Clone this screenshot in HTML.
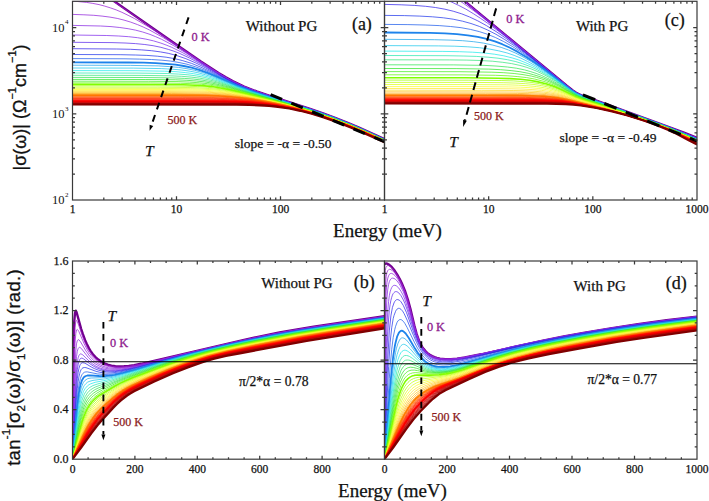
<!DOCTYPE html>
<html><head><meta charset="utf-8"><style>html,body{margin:0;padding:0;background:#fff;width:709px;height:501px;overflow:hidden}svg{display:block}</style></head>
<body><svg fill="#111" width="709" height="501" viewBox="0 0 709 501">
<defs><clipPath id="cpA"><rect x="72.5" y="1.3" width="312.0" height="198.7"/></clipPath><clipPath id="cpB"><rect x="72.5" y="261.0" width="312.0" height="198.2"/></clipPath><clipPath id="cpC"><rect x="384.5" y="1.3" width="312.5" height="198.7"/></clipPath><clipPath id="cpD"><rect x="384.5" y="261.0" width="312.5" height="198.2"/></clipPath></defs>
<rect width="709" height="501" fill="#fff"/>
<g clip-path="url(#cpA)" fill="none" stroke-linejoin="round">
<path d="M100.6 -8.2 175.5 44.0 200.9 61.5 218.6 73.1 225.9 77.4 232.7 81.1 244.1 86.5 256.6 91.4 269.1 95.6 310.1 108.9 323.1 113.4 335.1 117.8 346.5 122.3 358.5 127.4 384.5 139.2" stroke="#70008c" stroke-width="2.4"/>
<path d="M99.0 -8.3 125.5 9.5 186.9 52.0 204.6 64.0 220.2 74.1 226.4 77.8 232.7 81.2 244.1 86.6 256.6 91.4 269.1 95.7 310.1 108.9 323.1 113.4 335.1 117.8 346.5 122.4 358.5 127.4 384.5 139.3" stroke="#9f1fcc" stroke-width="0.75"/>
<path d="M72.5 1.0 86.5 2.4 92.8 3.4 99.0 4.6 104.7 6.1 110.5 7.9 116.2 9.9 121.9 12.3 128.1 15.3 134.4 18.5 148.4 26.8 165.6 37.8 200.9 61.7 213.4 70.0 225.9 77.5 236.8 83.3 246.7 87.7 258.7 92.2 309.1 108.6 322.1 113.1 333.5 117.3 345.5 122.0 357.5 127.0 369.9 132.6 384.5 139.3" stroke="#9822d4" stroke-width="0.75"/>
<path d="M72.5 14.4 83.9 14.8 93.8 15.3 102.1 16.1 109.9 17.1 117.2 18.4 124.0 20.1 130.7 22.1 137.5 24.6 143.2 27.0 149.5 30.0 162.5 37.2 177.5 46.5 206.7 65.7 217.6 72.7 228.5 79.1 238.9 84.4 248.3 88.4 259.2 92.5 308.6 108.5 321.6 113.0 333.0 117.2 345.0 121.9 356.9 126.9 369.9 132.6 384.5 139.4" stroke="#9126db" stroke-width="0.75"/>
<path d="M72.5 25.4 100.6 26.0 111.0 26.6 119.8 27.5 128.1 28.7 135.4 30.1 142.7 32.0 150.0 34.4 155.7 36.7 161.4 39.2 173.4 45.5 186.4 53.2 211.9 69.4 221.2 75.1 231.1 80.6 241.0 85.4 249.8 89.1 260.2 92.9 308.1 108.4 321.1 112.9 332.5 117.1 344.5 121.7 356.9 126.9 369.9 132.7 384.5 139.5" stroke="#8a2be3" stroke-width="0.75"/>
<path d="M72.5 35.0 106.8 35.5 118.8 36.0 128.7 36.7 137.5 37.7 145.8 39.1 153.6 40.9 160.9 43.1 166.1 45.0 171.3 47.1 182.7 52.7 194.2 59.1 224.3 77.2 233.7 82.2 242.5 86.3 250.9 89.7 260.7 93.2 308.1 108.5 332.0 116.9 343.9 121.6 356.4 126.8 369.4 132.5 384.5 139.5" stroke="#812feb" stroke-width="0.75"/>
<path d="M72.5 42.3 112.0 42.6 125.0 43.0 135.4 43.6 144.8 44.5 153.1 45.7 160.9 47.3 168.7 49.5 173.9 51.2 179.1 53.2 189.5 58.0 199.9 63.5 227.5 79.2 235.8 83.4 244.1 87.1 251.9 90.2 260.7 93.4 307.5 108.4 331.5 116.8 343.9 121.6 356.4 126.8 369.4 132.6 384.5 139.6" stroke="#5c2ceb" stroke-width="0.75"/>
<path d="M72.5 48.7 116.7 49.0 130.7 49.3 141.7 49.9 151.5 50.7 160.4 51.9 168.2 53.3 176.0 55.3 185.9 58.7 195.7 62.9 205.1 67.6 229.5 80.7 237.3 84.5 245.1 87.8 252.4 90.6 260.7 93.5 306.5 108.2 319.5 112.6 330.9 116.7 343.4 121.5 355.9 126.7 369.4 132.6 384.5 139.6" stroke="#3628eb" stroke-width="0.75"/>
<path d="M72.5 54.5 120.9 54.7 135.4 55.0 146.9 55.4 157.3 56.2 166.1 57.2 174.4 58.6 182.2 60.5 191.6 63.4 200.9 67.2 209.8 71.3 231.6 82.3 238.9 85.6 245.7 88.3 260.2 93.6 306.0 108.1 319.0 112.5 330.4 116.6 342.9 121.4 355.9 126.8 369.4 132.7 384.5 139.7" stroke="#253ceb" stroke-width="0.75"/>
<path d="M72.5 58.6 125.0 58.8 139.6 59.1 151.5 59.5 161.9 60.2 170.8 61.1 179.1 62.5 186.9 64.2 195.7 66.9 204.6 70.2 212.4 73.6 234.7 84.1 242.0 87.2 249.3 90.0 263.9 95.0 309.6 109.4 323.1 114.0 336.1 118.8 347.1 123.1 358.5 127.9 384.5 139.8" stroke="#225feb" stroke-width="0.75"/>
<path d="M72.5 62.3 128.1 62.5 143.7 62.7 155.7 63.1 166.1 63.8 175.5 64.7 183.8 66.0 191.6 67.7 199.9 70.1 208.2 73.1 215.5 76.1 236.3 85.3 250.3 90.7 263.9 95.2 307.5 108.8 320.5 113.2 333.0 117.7 345.0 122.4 356.9 127.3 369.9 133.1 384.5 139.8" stroke="#1e83eb" stroke-width="1.8"/>
<path d="M72.5 65.2 130.7 65.4 158.3 65.9 169.2 66.6 178.6 67.4 186.9 68.7 194.7 70.3 202.5 72.4 210.8 75.2 237.9 86.4 251.4 91.4 263.9 95.4 304.9 108.1 317.9 112.4 329.9 116.7 342.4 121.4 355.4 126.7 368.9 132.7 384.5 139.9" stroke="#20a6eb" stroke-width="0.75"/>
<path d="M72.5 68.0 133.3 68.1 161.4 68.6 172.3 69.2 181.7 70.0 190.0 71.2 197.8 72.7 205.6 74.8 213.4 77.3 239.4 87.4 252.4 92.0 302.3 107.4 315.3 111.6 327.3 115.8 340.8 120.9 354.3 126.4 368.4 132.5 384.5 139.9" stroke="#22c8eb" stroke-width="0.75"/>
<path d="M72.5 70.6 135.9 70.7 164.5 71.2 176.0 71.7 185.3 72.6 193.7 73.7 201.5 75.2 208.7 77.1 216.0 79.3 241.0 88.5 252.9 92.5 300.3 106.9 324.7 115.0 338.7 120.2 352.8 125.8 367.3 132.1 384.5 140.0" stroke="#23ebeb" stroke-width="0.75"/>
<path d="M72.5 73.0 138.0 73.1 167.1 73.5 178.6 74.1 187.9 74.8 196.3 75.9 204.1 77.3 210.8 79.0 217.6 80.9 250.9 92.3 298.2 106.4 322.6 114.4 337.2 119.7 351.7 125.4 366.8 132.0 384.5 140.1" stroke="#2ee8b0" stroke-width="0.75"/>
<path d="M72.5 75.3 141.1 75.4 170.3 75.8 181.7 76.3 191.1 77.1 199.4 78.1 207.2 79.5 213.9 81.0 221.2 83.1 250.3 92.5 296.1 105.9 320.5 113.7 335.6 119.2 350.7 125.1 366.3 131.8 384.5 140.1" stroke="#39e67e" stroke-width="0.75"/>
<path d="M72.5 77.4 143.2 77.5 172.9 77.9 184.3 78.4 193.7 79.1 202.0 80.1 210.3 81.5 217.6 83.1 225.4 85.3 252.9 93.7 296.1 106.1 318.5 113.1 334.1 118.7 349.7 124.8 365.8 131.6 384.5 140.2" stroke="#34e655" stroke-width="0.75"/>
<path d="M72.5 79.4 145.8 79.5 175.5 79.8 186.9 80.3 196.3 81.0 204.6 81.9 212.9 83.3 219.7 84.8 226.9 86.6 253.5 94.3 284.7 102.9 301.8 108.0 316.9 112.7 333.0 118.4 349.1 124.6 365.3 131.5 384.5 140.2" stroke="#32e62e" stroke-width="0.75"/>
<path d="M72.5 81.2 148.4 81.3 178.1 81.6 189.5 82.1 199.4 82.8 207.7 83.7 216.0 85.1 222.8 86.5 230.6 88.4 280.5 102.0 299.2 107.3 315.9 112.5 332.5 118.3 348.6 124.5 365.3 131.5 384.5 140.3" stroke="#45ee20" stroke-width="0.75"/>
<path d="M72.5 82.9 150.5 82.9 180.7 83.3 192.1 83.7 201.5 84.3 210.3 85.3 218.6 86.6 225.9 88.1 233.7 90.0 277.4 101.4 297.1 106.9 314.8 112.3 331.5 118.0 348.1 124.4 364.7 131.4 384.5 140.4" stroke="#5ff710" stroke-width="0.75"/>
<path d="M72.5 84.4 153.1 84.5 183.3 84.8 194.7 85.2 204.6 85.9 213.4 86.8 221.7 88.2 229.0 89.6 237.9 91.6 275.8 101.2 296.1 106.7 314.3 112.2 330.9 117.9 347.6 124.2 364.7 131.5 384.5 140.4" stroke="#80ff00" stroke-width="1.6"/>
<path d="M72.5 85.8 155.7 85.8 185.9 86.2 197.3 86.6 207.2 87.2 216.0 88.2 224.3 89.5 241.0 93.0 274.8 101.2 295.1 106.6 313.8 112.2 330.4 117.8 347.1 124.1 364.2 131.3 384.5 140.5" stroke="#a2ff0a" stroke-width="0.75"/>
<path d="M72.5 87.1 157.8 87.2 187.9 87.5 199.4 87.9 209.3 88.5 218.1 89.4 226.9 90.7 244.6 94.3 274.8 101.4 295.1 106.7 313.8 112.3 330.4 117.9 347.1 124.2 364.2 131.4 384.5 140.5" stroke="#c2ff14" stroke-width="0.75"/>
<path d="M72.5 88.3 160.4 88.4 190.5 88.7 202.0 89.1 211.9 89.7 220.7 90.6 230.1 92.0 248.8 95.7 275.3 101.8 295.1 106.9 313.8 112.4 330.4 118.0 347.1 124.3 364.2 131.4 384.5 140.6" stroke="#e0ff1f" stroke-width="0.75"/>
<path d="M72.5 89.5 162.5 89.5 192.6 89.8 204.1 90.2 213.9 90.8 223.3 91.8 232.7 93.1 251.4 96.7 275.8 102.1 295.6 107.2 313.8 112.5 330.4 118.1 347.1 124.3 364.2 131.5 384.5 140.7" stroke="#fbff29" stroke-width="0.75"/>
<path d="M72.5 90.6 165.1 90.6 195.2 90.9 207.2 91.3 217.1 92.0 226.4 92.9 235.8 94.3 255.0 97.8 277.4 102.7 296.1 107.5 314.3 112.8 330.9 118.3 347.1 124.4 364.2 131.6 384.5 140.7" stroke="#ffeb33" stroke-width="0.75"/>
<path d="M72.5 91.6 167.1 91.6 197.3 91.9 209.3 92.3 219.1 92.9 229.0 93.9 238.9 95.3 258.1 98.8 278.9 103.3 297.1 107.9 314.8 113.0 331.5 118.6 347.6 124.7 364.2 131.6 384.5 140.8" stroke="#ffd829" stroke-width="0.75"/>
<path d="M72.5 92.6 169.2 92.6 199.4 92.9 211.3 93.2 221.7 93.9 231.6 94.9 241.5 96.3 260.2 99.6 280.0 103.8 298.2 108.3 315.3 113.3 331.5 118.7 347.6 124.7 364.2 131.7 384.5 140.8" stroke="#ffc41f" stroke-width="0.75"/>
<path d="M72.5 93.5 171.8 93.5 202.0 93.8 213.9 94.2 224.3 94.8 234.2 95.8 244.6 97.2 262.8 100.4 281.5 104.3 298.7 108.6 315.9 113.6 331.5 118.7 347.6 124.8 364.2 131.8 384.5 140.9" stroke="#ffaf14" stroke-width="0.75"/>
<path d="M72.5 94.3 173.9 94.3 204.1 94.6 216.5 95.0 226.9 95.7 236.8 96.7 247.7 98.1 265.9 101.3 283.6 105.0 300.3 109.1 316.9 114.0 332.5 119.2 348.1 125.1 364.7 132.1 384.5 141.0" stroke="#ff980a" stroke-width="0.75"/>
<path d="M72.5 95.1 176.0 95.1 206.1 95.4 218.1 95.8 229.0 96.5 239.4 97.5 250.3 98.9 267.5 101.8 284.7 105.4 301.3 109.5 317.4 114.2 333.0 119.5 348.6 125.4 364.7 132.1 384.5 141.0" stroke="#ff7f00" stroke-width="1.6"/>
<path d="M72.5 95.8 178.6 95.9 208.2 96.1 220.2 96.5 231.1 97.2 242.0 98.2 252.9 99.7 269.6 102.4 286.2 105.9 302.3 109.9 317.9 114.5 333.0 119.5 348.6 125.4 364.7 132.2 384.5 141.1" stroke="#ff6f00" stroke-width="0.75"/>
<path d="M72.5 96.6 180.1 96.6 209.8 96.8 222.3 97.2 233.2 97.9 244.1 98.9 255.0 100.3 271.1 103.0 287.3 106.3 302.9 110.1 318.5 114.7 333.5 119.8 348.6 125.5 364.7 132.3 384.5 141.1" stroke="#ff5f00" stroke-width="0.75"/>
<path d="M72.5 97.3 182.2 97.3 211.9 97.5 224.3 97.9 235.3 98.6 246.2 99.6 257.1 100.9 272.7 103.5 288.3 106.6 303.9 110.5 319.0 114.9 334.1 120.0 349.1 125.8 365.3 132.5 384.5 141.2" stroke="#ff4e00" stroke-width="0.75"/>
<path d="M72.5 97.9 183.8 97.9 213.4 98.2 225.9 98.5 237.3 99.2 248.3 100.2 259.2 101.5 274.8 104.0 289.9 107.1 304.4 110.7 319.5 115.2 334.1 120.1 349.1 125.8 365.3 132.6 384.5 141.3" stroke="#ff3e00" stroke-width="0.75"/>
<path d="M72.5 98.5 185.3 98.6 215.0 98.8 227.5 99.1 238.9 99.8 249.8 100.7 261.3 102.1 276.3 104.5 290.9 107.5 305.5 111.1 320.0 115.4 334.6 120.4 349.1 125.9 364.7 132.5 384.5 141.3" stroke="#ff2e00" stroke-width="0.75"/>
<path d="M72.5 99.1 187.4 99.1 216.5 99.3 229.5 99.7 241.0 100.4 251.9 101.3 262.8 102.6 277.4 104.9 291.9 107.8 306.0 111.3 320.5 115.6 335.1 120.6 349.7 126.2 365.3 132.7 384.5 141.4" stroke="#ff2500" stroke-width="0.75"/>
<path d="M72.5 99.7 189.0 99.7 218.1 99.9 231.1 100.2 242.5 100.9 253.5 101.8 264.4 103.1 278.9 105.3 293.0 108.2 307.0 111.7 321.1 115.9 335.1 120.7 349.7 126.3 365.3 132.8 384.5 141.4" stroke="#ff1c00" stroke-width="0.75"/>
<path d="M72.5 100.2 190.5 100.2 219.7 100.4 232.7 100.7 244.1 101.3 255.0 102.2 265.9 103.5 280.0 105.7 294.0 108.5 307.5 111.9 321.6 116.1 335.6 120.9 350.2 126.5 365.3 132.9 384.5 141.5" stroke="#ff1200" stroke-width="0.75"/>
<path d="M72.5 100.7 192.6 100.7 221.7 100.9 234.7 101.2 246.2 101.8 257.1 102.7 267.5 103.9 281.0 106.0 294.5 108.7 308.1 112.1 321.6 116.2 335.6 121.0 350.2 126.6 365.3 132.9 384.5 141.6" stroke="#ff0900" stroke-width="0.75"/>
<path d="M72.5 101.1 193.7 101.1 222.8 101.3 235.8 101.6 247.2 102.2 258.1 103.1 268.5 104.3 282.1 106.3 295.1 108.9 308.6 112.3 322.1 116.4 335.6 121.0 350.2 126.7 365.3 133.0 384.5 141.6" stroke="#ff0000" stroke-width="1.8"/>
<path d="M72.5 101.6 195.2 101.6 224.3 101.7 237.3 102.1 248.8 102.6 259.7 103.5 270.1 104.6 283.1 106.6 296.1 109.3 309.1 112.5 322.6 116.6 336.1 121.3 350.2 126.7 365.3 133.1 384.5 141.7" stroke="#f20000" stroke-width="0.75"/>
<path d="M72.5 102.0 196.8 102.0 225.9 102.1 238.9 102.5 250.3 103.0 260.7 103.8 271.1 104.9 284.1 106.9 296.6 109.5 309.6 112.7 322.6 116.7 336.1 121.4 350.2 126.8 365.3 133.1 384.5 141.8" stroke="#e60000" stroke-width="0.75"/>
<path d="M72.5 102.4 198.9 102.4 227.5 102.5 240.5 102.8 251.9 103.4 262.3 104.2 272.2 105.2 284.7 107.1 297.1 109.6 309.6 112.8 322.6 116.7 336.1 121.4 350.2 126.9 365.3 133.2 384.5 141.8" stroke="#d90000" stroke-width="0.75"/>
<path d="M72.5 102.7 199.9 102.7 228.5 102.9 241.5 103.2 252.9 103.7 263.3 104.5 273.2 105.5 285.7 107.4 297.7 109.8 310.1 113.0 323.1 117.0 336.7 121.7 350.7 127.1 365.8 133.5 384.5 141.9" stroke="#cc0000" stroke-width="0.75"/>
<path d="M72.5 103.1 230.1 103.3 243.1 103.5 254.5 104.0 264.9 104.8 274.3 105.8 286.2 107.6 298.2 110.0 310.1 113.1 323.1 117.0 336.7 121.7 350.7 127.2 365.8 133.6 384.5 141.9" stroke="#bf0000" stroke-width="0.75"/>
<path d="M72.5 103.4 231.1 103.6 244.1 103.8 255.0 104.3 265.4 105.0 274.8 106.0 286.7 107.8 298.7 110.2 310.7 113.3 323.1 117.1 336.1 121.6 350.2 127.1 365.3 133.4 384.5 142.0" stroke="#b30000" stroke-width="0.75"/>
<path d="M72.5 103.7 232.7 103.9 245.7 104.2 256.6 104.6 266.5 105.3 275.8 106.3 287.8 108.1 299.2 110.4 311.2 113.5 323.7 117.3 336.7 121.9 350.7 127.3 365.8 133.7 384.5 142.1" stroke="#a60000" stroke-width="0.75"/>
<path d="M72.5 104.0 233.7 104.2 246.7 104.4 257.6 104.9 267.5 105.6 276.9 106.5 288.3 108.2 299.7 110.6 311.2 113.5 323.7 117.3 336.7 121.9 350.7 127.4 365.8 133.8 384.5 142.1" stroke="#990000" stroke-width="0.75"/>
<path d="M72.5 104.3 235.3 104.4 247.7 104.6 258.7 105.1 268.5 105.8 277.4 106.7 288.8 108.4 299.7 110.6 311.2 113.6 323.7 117.4 336.7 122.0 350.7 127.5 365.3 133.6 384.5 142.2" stroke="#8c0000" stroke-width="0.75"/>
<path d="M72.5 104.5 236.3 104.6 249.3 104.9 259.7 105.3 269.1 105.9 277.9 106.8 289.3 108.5 300.3 110.8 311.7 113.7 323.7 117.4 336.7 122.0 350.7 127.5 365.3 133.7 384.5 142.3" stroke="#800000" stroke-width="2.2"/>
</g>
<g clip-path="url(#cpB)" fill="none" stroke-linejoin="round">
<path d="M72.5 459.2 73.0 381.6 73.5 343.7 74.2 321.8 75.0 312.9 75.8 310.7 76.5 312.0 81.2 329.0 82.8 333.9 85.1 340.2 86.7 343.8 89.0 348.4 90.5 350.9 92.9 354.2 95.2 356.8 98.3 359.6 101.4 361.7 104.5 363.4 107.7 364.6 111.5 365.6 115.4 366.2 119.3 366.4 124.0 366.3 128.7 365.9 134.1 365.2 141.1 363.8 243.0 340.1 261.6 336.1 279.5 332.5 295.8 329.6 313.7 326.7 384.5 316.2" stroke="#70008c" stroke-width="2.4"/>
<path d="M72.5 459.2 73.4 383.7 74.1 348.9 75.0 327.4 75.8 321.5 76.5 320.5 77.3 321.6 78.1 323.6 82.8 337.2 85.9 344.6 87.4 347.7 89.8 351.6 91.3 353.8 93.7 356.6 96.0 358.9 99.1 361.4 102.2 363.2 105.3 364.6 108.4 365.6 112.3 366.4 116.2 366.9 120.1 367.0 124.8 366.7 129.4 366.2 140.3 364.3 180.0 354.8 239.1 341.1 258.5 336.8 277.2 333.1 294.3 330.0 313.0 326.9 384.5 316.3" stroke="#9f1fcc" stroke-width="0.75"/>
<path d="M72.5 459.2 73.9 378.4 75.0 343.8 75.8 333.6 76.5 330.0 77.3 329.4 78.1 330.2 78.9 331.6 84.3 344.1 87.4 350.0 89.0 352.5 91.3 355.6 95.2 359.7 97.5 361.6 100.7 363.6 103.0 364.7 106.1 365.9 109.2 366.7 113.1 367.3 117.0 367.5 120.9 367.5 129.4 366.6 139.5 364.7 180.0 354.9 233.6 342.4 254.6 337.8 274.1 333.8 292.0 330.5 311.4 327.3 384.5 316.5" stroke="#9822d4" stroke-width="0.75"/>
<path d="M72.5 459.2 75.0 366.3 75.8 351.1 76.5 343.8 77.3 340.7 78.1 339.7 78.9 339.8 80.4 341.6 85.9 350.9 89.8 356.4 93.7 360.5 97.5 363.5 99.9 364.8 103.0 366.2 105.3 367.0 108.4 367.8 114.7 368.4 121.7 368.3 129.4 367.3 138.8 365.4 180.0 355.1 226.6 344.2 250.0 339.0 271.0 334.6 290.4 331.0 309.8 327.8 384.5 316.7" stroke="#9126db" stroke-width="0.75"/>
<path d="M72.5 459.2 75.0 384.2 75.8 366.9 76.5 356.7 77.3 351.3 78.1 348.7 78.9 347.6 79.7 347.3 80.4 347.7 81.2 348.3 88.2 357.3 92.1 361.3 95.2 363.8 99.1 366.0 103.8 367.9 109.2 369.0 115.4 369.3 121.7 369.0 128.7 368.0 137.2 366.2 173.0 357.1 189.3 353.1 237.5 341.8 267.9 335.4 288.8 331.4 308.3 328.2 384.5 316.9" stroke="#8a2be3" stroke-width="0.75"/>
<path d="M72.5 459.2 75.0 398.5 75.8 381.3 76.5 369.4 77.3 362.1 78.1 357.9 78.9 355.6 79.7 354.4 80.4 353.9 81.2 354.0 82.8 354.9 89.0 361.0 92.9 364.2 96.0 366.2 99.9 368.0 104.5 369.4 109.2 370.1 114.7 370.2 120.9 369.8 127.9 368.7 136.4 366.9 172.2 357.5 190.1 353.1 235.2 342.5 265.5 336.1 287.3 331.9 306.7 328.6 384.5 317.0" stroke="#812feb" stroke-width="0.75"/>
<path d="M72.5 459.2 75.8 390.5 76.5 378.2 77.3 369.9 78.1 364.7 78.9 361.5 79.7 359.6 80.4 358.6 81.2 358.2 82.0 358.1 83.5 358.8 89.8 363.7 93.7 366.3 96.8 367.9 100.7 369.4 105.3 370.5 110.0 370.9 115.4 370.8 120.9 370.3 127.9 369.1 137.2 367.0 178.4 356.1 215.0 347.3 239.9 341.6 262.4 336.8 285.7 332.3 306.0 328.9 384.5 317.2" stroke="#5c2ceb" stroke-width="0.75"/>
<path d="M72.5 459.2 75.8 400.1 77.3 378.9 78.1 372.7 78.9 368.6 79.7 365.9 80.4 364.3 81.2 363.3 82.0 362.8 82.8 362.7 84.3 363.0 85.9 363.7 91.3 367.0 94.4 368.6 98.3 370.1 102.2 371.1 106.1 371.7 110.0 371.9 114.7 371.6 120.1 371.0 127.9 369.6 137.2 367.4 171.4 358.1 193.2 352.6 229.7 343.9 259.3 337.6 283.4 332.9 304.4 329.3 384.5 317.4" stroke="#3628eb" stroke-width="0.75"/>
<path d="M72.5 459.2 76.5 397.9 77.3 388.7 78.1 381.8 78.9 376.9 79.7 373.5 80.4 371.1 81.2 369.5 82.0 368.5 82.8 367.9 84.3 367.5 85.9 367.6 96.0 371.3 99.9 372.3 103.8 372.9 106.9 373.1 110.8 373.0 119.3 372.0 127.1 370.4 136.4 368.1 170.6 358.6 191.6 353.2 226.6 344.8 256.2 338.4 281.1 333.6 303.6 329.6 327.0 326.0 384.5 317.6" stroke="#253ceb" stroke-width="0.75"/>
<path d="M72.5 459.2 76.5 407.0 78.1 390.9 78.9 385.4 80.4 378.3 82.0 374.6 82.8 373.5 84.3 372.3 85.9 371.9 87.4 371.9 97.5 373.9 104.5 374.5 110.0 374.3 117.0 373.4 124.8 371.7 135.7 369.0 169.1 359.4 190.1 353.8 222.7 345.9 251.5 339.6 278.0 334.4 302.1 330.1 325.4 326.5 384.5 317.8" stroke="#225feb" stroke-width="0.75"/>
<path d="M72.5 459.2 77.3 405.6 78.9 392.9 80.4 384.9 82.0 380.3 83.5 377.7 84.3 376.9 85.9 376.0 87.4 375.5 89.8 375.3 99.1 376.0 104.5 376.1 109.2 375.7 114.7 374.8 123.2 372.9 134.9 369.8 168.3 360.0 188.5 354.5 219.6 346.9 247.6 340.6 274.9 335.2 300.5 330.6 324.6 326.8 384.5 318.0" stroke="#1e83eb" stroke-width="1.8"/>
<path d="M72.5 459.2 74.2 443.5 77.3 411.6 78.1 404.8 79.7 394.4 81.2 387.8 82.8 383.7 83.5 382.3 85.1 380.3 87.4 378.8 89.0 378.3 91.3 378.0 101.4 377.7 106.1 377.3 110.8 376.6 116.2 375.4 134.9 370.4 167.5 360.5 188.5 354.7 221.2 346.7 253.9 339.6 279.5 334.6 302.8 330.5 325.4 326.9 384.5 318.2" stroke="#20a6eb" stroke-width="0.75"/>
<path d="M72.5 459.2 78.1 410.5 78.9 405.0 80.4 396.3 82.0 390.6 83.5 386.8 84.3 385.5 85.9 383.6 87.4 382.3 89.0 381.5 92.9 380.4 105.3 378.8 113.9 377.0 135.7 370.7 165.2 361.6 183.9 356.3 213.4 348.7 242.2 342.2 271.0 336.4 299.7 331.2 323.8 327.4 384.5 318.4" stroke="#22c8eb" stroke-width="0.75"/>
<path d="M72.5 459.2 78.1 415.6 79.7 405.7 81.2 398.4 82.8 393.3 83.5 391.4 85.1 388.6 87.4 385.9 89.0 384.7 90.5 383.9 95.2 382.3 106.1 380.2 113.9 378.1 138.0 370.7 164.4 362.2 182.3 357.0 208.0 350.3 232.1 344.7 263.2 338.2 296.6 332.0 322.3 327.9 384.5 318.7" stroke="#23ebeb" stroke-width="0.75"/>
<path d="M72.5 459.2 78.9 415.1 80.4 406.7 82.0 400.4 82.8 398.0 84.3 394.1 86.7 390.3 88.2 388.6 89.8 387.4 92.9 385.6 97.5 384.0 110.8 380.3 158.2 364.7 174.5 359.6 187.0 356.1 201.0 352.4 225.1 346.5 257.7 339.5 295.1 332.5 321.5 328.3 384.5 318.9" stroke="#2ee8b0" stroke-width="0.75"/>
<path d="M72.5 459.2 78.9 419.4 80.4 411.3 82.8 402.4 85.1 396.7 87.4 393.0 89.0 391.2 90.5 389.9 92.9 388.3 95.2 387.1 99.1 385.6 108.4 382.5 128.7 375.2 167.5 362.2 190.9 355.4 205.6 351.5 219.6 348.0 236.0 344.4 253.1 340.8 293.5 333.1 320.7 328.7 384.5 319.2" stroke="#39e67e" stroke-width="0.75"/>
<path d="M72.5 459.2 79.7 419.1 81.2 412.1 83.5 404.3 85.9 399.0 87.4 396.4 89.0 394.5 90.5 392.9 92.9 391.0 95.2 389.5 98.3 388.0 127.1 376.6 163.6 364.0 176.1 360.0 188.5 356.4 204.1 352.2 217.3 348.9 233.6 345.2 251.5 341.4 271.7 337.4 293.5 333.4 320.7 329.0 384.5 319.4" stroke="#34e655" stroke-width="0.75"/>
<path d="M72.5 459.2 79.7 422.6 82.0 413.0 84.3 406.0 85.9 402.5 87.4 399.8 89.0 397.6 91.3 395.0 93.7 393.0 96.0 391.4 102.2 388.2 117.0 381.6 126.3 377.8 161.3 365.3 173.8 361.2 187.0 357.3 202.5 353.0 215.7 349.6 231.3 346.0 249.2 342.2 270.2 338.0 292.7 333.9 320.7 329.3 384.5 319.7" stroke="#32e62e" stroke-width="0.75"/>
<path d="M72.5 459.2 75.0 448.1 78.9 429.2 81.2 419.2 82.8 413.9 84.3 409.4 85.9 405.9 87.4 402.9 89.0 400.6 91.3 397.7 93.7 395.5 96.8 393.2 102.2 390.0 119.3 381.7 126.3 378.7 133.3 376.0 156.6 367.5 172.2 362.2 185.4 358.1 200.2 354.0 222.7 348.3 237.5 345.0 254.6 341.4 295.1 333.8 321.5 329.5 384.5 320.0" stroke="#45ee20" stroke-width="0.75"/>
<path d="M72.5 459.2 75.0 449.0 79.7 428.3 82.0 419.5 83.5 414.7 85.1 410.7 86.7 407.3 89.0 403.4 91.3 400.3 93.7 397.9 96.0 395.9 99.1 393.7 103.0 391.3 112.3 386.3 123.2 381.0 131.8 377.4 151.2 370.1 163.6 365.6 174.5 362.0 187.0 358.1 201.0 354.1 211.9 351.2 223.5 348.4 238.3 345.1 254.6 341.8 295.8 334.0 322.3 329.7 384.5 320.3" stroke="#5ff710" stroke-width="0.75"/>
<path d="M72.5 459.2 75.0 449.7 79.7 430.6 82.0 422.2 83.5 417.5 85.9 411.7 87.4 408.6 89.8 404.8 92.1 401.8 94.4 399.4 97.5 396.7 100.7 394.5 114.7 386.2 120.1 383.4 126.3 380.5 133.3 377.6 153.5 369.9 164.4 365.9 175.3 362.2 187.8 358.3 201.8 354.3 211.9 351.6 223.5 348.8 238.3 345.5 254.6 342.1 295.8 334.3 322.3 330.0 384.5 320.6" stroke="#80ff00" stroke-width="1.6"/>
<path d="M72.5 459.2 75.0 450.4 79.7 432.6 82.8 422.2 84.3 418.0 86.7 412.7 88.2 409.7 90.5 406.1 92.9 403.2 96.0 400.0 99.1 397.3 102.2 395.1 110.0 390.2 115.4 387.0 121.7 383.6 127.9 380.7 134.1 378.1 155.1 369.9 166.0 365.9 176.1 362.5 188.5 358.5 201.8 354.7 211.9 351.9 223.5 349.1 238.3 345.8 254.6 342.4 296.6 334.5 322.3 330.3 384.5 320.9" stroke="#a2ff0a" stroke-width="0.75"/>
<path d="M72.5 459.2 80.4 431.8 83.5 422.4 85.1 418.5 87.4 413.5 89.0 410.8 91.3 407.3 93.7 404.4 96.8 401.2 99.9 398.5 103.0 396.2 110.8 391.0 117.0 387.2 123.2 383.8 130.2 380.5 156.6 369.9 167.5 365.9 177.6 362.4 189.3 358.7 202.5 354.8 212.6 352.1 223.5 349.5 237.5 346.3 253.9 343.0 296.6 334.8 322.3 330.6 384.5 321.2" stroke="#c2ff14" stroke-width="0.75"/>
<path d="M72.5 459.2 80.4 433.5 83.5 424.5 85.1 420.7 87.4 415.8 89.8 411.7 92.1 408.3 95.2 404.6 99.1 400.9 102.2 398.3 108.4 393.9 114.7 389.7 120.1 386.5 125.5 383.6 131.8 380.7 157.4 370.3 177.6 362.9 189.3 359.2 202.5 355.2 212.6 352.5 223.5 349.8 237.5 346.7 253.1 343.5 296.6 335.2 322.3 331.0 384.5 321.5" stroke="#e0ff1f" stroke-width="0.75"/>
<path d="M72.5 459.2 81.2 432.8 84.3 424.5 85.9 421.0 88.2 416.4 90.5 412.5 92.9 409.3 96.0 405.6 99.9 401.8 103.0 399.3 110.8 393.5 116.2 389.8 120.9 387.0 126.3 384.1 132.5 381.1 158.2 370.6 168.3 366.7 178.4 363.2 190.1 359.4 202.5 355.6 211.9 353.1 222.7 350.4 236.0 347.4 252.3 344.0 296.6 335.5 322.3 331.3 384.5 321.8" stroke="#fbff29" stroke-width="0.75"/>
<path d="M72.5 459.2 81.2 434.3 84.3 426.3 86.7 421.3 89.0 416.9 91.3 413.3 93.7 410.1 96.8 406.5 100.7 402.7 106.1 398.2 112.3 393.6 117.0 390.4 122.4 387.0 127.9 384.1 134.1 381.2 158.2 371.2 168.3 367.3 178.4 363.7 190.1 359.8 202.5 356.0 211.9 353.4 222.7 350.7 236.0 347.8 252.3 344.4 297.4 335.8 323.1 331.5 384.5 322.1" stroke="#ffeb33" stroke-width="0.75"/>
<path d="M72.5 459.2 81.2 435.7 85.1 426.2 87.4 421.5 89.8 417.4 92.1 413.8 94.4 410.8 97.5 407.2 101.4 403.4 108.4 397.6 113.9 393.5 118.5 390.3 124.0 387.0 129.4 384.2 134.9 381.6 159.0 371.4 169.1 367.5 179.2 363.9 190.1 360.2 202.5 356.4 211.9 353.8 222.7 351.1 236.0 348.1 251.5 344.9 297.4 336.1 323.1 331.9 384.5 322.4" stroke="#ffd829" stroke-width="0.75"/>
<path d="M72.5 459.2 82.0 434.9 85.9 426.1 88.2 421.6 90.5 417.7 92.9 414.3 96.0 410.4 99.1 407.0 103.0 403.4 110.8 396.9 117.0 392.3 122.4 388.8 127.9 385.7 133.3 383.0 140.3 379.9 162.9 370.4 182.3 363.3 204.1 356.3 213.4 353.8 224.3 351.1 252.3 345.1 298.2 336.3 323.8 332.1 384.5 322.7" stroke="#ffc41f" stroke-width="0.75"/>
<path d="M72.5 459.2 82.0 436.0 86.7 425.9 89.0 421.7 92.1 416.8 94.4 413.7 97.5 410.0 102.2 405.3 109.2 399.2 114.7 394.8 120.1 391.0 124.8 388.1 130.2 385.2 145.8 378.1 166.8 369.4 176.1 365.9 186.2 362.3 206.4 356.0 215.7 353.5 225.9 351.0 253.1 345.3 299.0 336.5 323.8 332.4 384.5 323.0" stroke="#ffaf14" stroke-width="0.75"/>
<path d="M72.5 459.2 82.8 435.2 86.7 427.2 89.0 423.0 92.1 418.1 95.2 413.9 99.1 409.4 103.0 405.6 111.5 398.2 117.0 393.9 121.7 390.7 126.3 387.9 131.8 385.0 148.9 377.3 168.3 369.2 177.6 365.7 187.8 362.2 207.2 356.1 216.5 353.6 226.6 351.2 253.9 345.4 299.7 336.7 323.8 332.7 384.5 323.3" stroke="#ff980a" stroke-width="0.75"/>
<path d="M72.5 459.2 82.8 436.1 87.4 426.8 89.8 422.8 92.9 418.1 96.0 414.0 99.9 409.6 103.8 405.9 112.3 398.3 117.8 394.0 122.4 390.8 127.1 388.0 132.5 385.2 151.2 376.7 170.6 368.7 190.1 361.7 208.0 356.1 217.3 353.7 227.4 351.3 253.9 345.7 299.7 337.0 323.8 333.0 384.5 323.5" stroke="#ff7f00" stroke-width="1.6"/>
<path d="M72.5 459.2 83.5 435.3 88.2 426.4 90.5 422.5 93.7 418.0 96.8 414.0 100.7 409.7 107.7 403.1 113.1 398.3 117.8 394.6 123.2 390.9 127.9 388.1 133.3 385.2 153.5 376.1 172.2 368.4 191.6 361.5 208.8 356.2 227.4 351.5 253.1 346.1 300.5 337.1 324.6 333.1 384.5 323.8" stroke="#ff6f00" stroke-width="0.75"/>
<path d="M72.5 459.2 83.5 436.0 88.2 427.2 91.3 422.2 94.4 417.8 97.5 413.9 101.4 409.7 108.4 403.1 113.9 398.2 118.5 394.6 124.0 390.8 128.7 388.0 133.3 385.6 154.3 376.1 173.0 368.4 192.4 361.5 208.8 356.4 217.3 354.1 227.4 351.7 252.3 346.5 300.5 337.4 324.6 333.3 384.5 324.0" stroke="#ff5f00" stroke-width="0.75"/>
<path d="M72.5 459.2 84.3 435.1 89.0 426.7 92.1 421.8 95.2 417.6 98.3 413.8 102.2 409.6 109.2 402.9 114.7 398.1 119.3 394.4 124.8 390.7 129.4 388.0 134.1 385.6 155.9 375.7 174.5 368.1 193.2 361.4 202.5 358.4 209.5 356.3 227.4 351.9 251.5 346.9 301.3 337.4 324.6 333.6 384.5 324.2" stroke="#ff4e00" stroke-width="0.75"/>
<path d="M72.5 459.2 84.3 435.7 89.0 427.4 92.1 422.5 95.2 418.3 99.1 413.6 103.0 409.5 110.0 402.7 115.4 397.9 120.1 394.2 125.5 390.6 129.4 388.3 134.1 385.8 157.4 375.2 176.1 367.7 194.8 361.0 203.3 358.3 210.3 356.3 227.4 352.0 250.7 347.2 301.3 337.7 324.6 333.8 384.5 324.4" stroke="#ff3e00" stroke-width="0.75"/>
<path d="M72.5 459.2 85.1 434.8 90.5 425.5 93.7 421.0 97.5 416.0 101.4 411.6 106.9 406.2 112.3 401.0 117.0 397.0 121.7 393.4 127.1 389.9 131.0 387.7 135.7 385.3 158.2 375.1 176.9 367.6 195.5 360.9 210.3 356.4 227.4 352.2 250.0 347.6 301.3 337.9 324.6 334.0 384.5 324.7" stroke="#ff2e00" stroke-width="0.75"/>
<path d="M72.5 459.2 85.1 435.3 88.2 429.9 91.3 425.0 95.2 419.5 99.1 414.7 102.2 411.3 109.2 404.4 113.9 400.0 118.5 396.1 123.2 392.7 127.9 389.7 132.5 387.1 137.2 384.8 159.0 375.0 176.9 367.7 195.5 361.1 203.3 358.6 210.3 356.5 226.6 352.5 249.2 347.9 302.1 337.9 324.6 334.2 384.5 324.8" stroke="#ff2500" stroke-width="0.75"/>
<path d="M72.5 459.2 85.9 434.5 89.0 429.2 92.1 424.4 96.0 419.1 99.9 414.4 110.8 403.3 115.4 399.0 119.3 395.8 124.0 392.4 128.7 389.5 133.3 387.0 138.8 384.3 159.8 374.9 177.6 367.6 196.3 361.0 210.3 356.7 226.6 352.7 248.4 348.2 302.1 338.1 324.6 334.4 384.5 325.0" stroke="#ff1c00" stroke-width="0.75"/>
<path d="M72.5 459.2 86.7 433.7 89.8 428.5 92.9 423.9 96.8 418.7 100.7 414.1 111.5 403.0 116.2 398.7 120.1 395.6 124.8 392.2 129.4 389.3 134.1 386.8 141.1 383.5 160.5 374.7 170.6 370.5 180.0 366.9 199.4 360.1 211.9 356.4 226.6 352.8 247.6 348.5 302.1 338.3 324.6 334.6 384.5 325.3" stroke="#ff1200" stroke-width="0.75"/>
<path d="M72.5 459.2 86.7 434.2 92.9 424.5 96.8 419.3 100.7 414.7 113.1 402.0 117.8 397.8 121.7 394.7 125.5 392.0 130.2 389.2 134.1 387.1 142.6 383.0 161.3 374.6 180.0 367.1 200.2 360.0 212.6 356.3 226.6 353.0 246.9 348.9 302.8 338.4 324.6 334.8 384.5 325.5" stroke="#ff0900" stroke-width="0.75"/>
<path d="M72.5 459.2 87.4 433.5 93.7 424.1 97.5 419.0 101.4 414.5 113.9 401.7 118.5 397.6 122.4 394.5 126.3 391.9 131.0 389.1 145.0 382.2 162.9 374.2 180.8 367.0 200.2 360.2 211.9 356.7 226.6 353.2 246.1 349.3 302.8 338.7 324.6 335.1 384.5 325.7" stroke="#ff0000" stroke-width="1.8"/>
<path d="M72.5 459.2 87.4 434.1 93.7 424.7 97.5 419.6 101.4 415.1 110.0 406.1 114.7 401.5 118.5 398.0 122.4 395.0 126.3 392.2 131.0 389.4 145.0 382.6 163.6 374.2 181.5 367.0 201.0 360.2 212.6 356.7 226.6 353.4 245.3 349.6 303.6 338.8 325.4 335.2 384.5 325.9" stroke="#f20000" stroke-width="0.75"/>
<path d="M72.5 459.2 88.2 433.4 94.4 424.3 97.5 420.3 101.4 415.8 110.8 405.9 115.4 401.3 119.3 397.9 123.2 394.8 127.1 392.1 131.8 389.4 146.5 382.2 164.4 374.2 182.3 367.0 201.0 360.4 212.6 357.0 225.9 353.8 244.5 350.0 303.6 339.1 325.4 335.5 384.5 326.2" stroke="#e60000" stroke-width="0.75"/>
<path d="M72.5 459.2 78.1 450.5 88.2 434.0 94.4 425.0 98.3 420.0 102.2 415.5 110.8 406.4 116.2 401.1 120.1 397.7 124.0 394.7 127.9 392.0 131.8 389.7 148.1 381.8 166.0 373.8 183.1 367.0 201.0 360.6 212.6 357.2 226.6 353.9 244.5 350.3 304.4 339.2 325.4 335.7 384.5 326.5" stroke="#d90000" stroke-width="0.75"/>
<path d="M72.5 459.2 80.4 447.0 89.0 433.4 95.2 424.6 98.3 420.7 102.2 416.2 111.5 406.2 117.0 400.9 120.9 397.5 124.8 394.5 128.7 392.0 132.5 389.7 148.9 381.8 166.8 373.8 183.1 367.3 201.0 360.9 212.6 357.4 225.9 354.3 243.0 350.9 304.4 339.5 325.4 336.0 384.5 326.7" stroke="#cc0000" stroke-width="0.75"/>
<path d="M72.5 459.2 80.4 447.4 89.0 433.9 96.0 424.2 100.7 418.6 109.2 409.2 113.9 404.4 117.8 400.7 120.9 398.0 124.8 395.0 128.7 392.4 132.5 390.1 149.6 381.8 167.5 373.8 183.9 367.3 201.8 360.9 212.6 357.7 225.9 354.6 243.0 351.1 304.4 339.8 325.4 336.3 384.5 327.0" stroke="#bf0000" stroke-width="0.75"/>
<path d="M72.5 459.2 80.4 447.7 89.8 433.3 96.0 424.8 100.7 419.2 110.0 409.0 114.7 404.1 118.5 400.5 121.7 397.8 125.5 394.9 129.4 392.3 133.3 390.1 151.2 381.5 168.3 373.8 184.6 367.3 201.8 361.2 212.6 358.0 225.9 354.8 242.2 351.6 305.2 340.0 384.5 327.3" stroke="#b30000" stroke-width="0.75"/>
<path d="M72.5 459.2 80.4 448.0 90.5 432.8 96.8 424.5 101.4 418.9 111.5 407.9 115.4 403.9 119.3 400.3 122.4 397.7 126.3 394.8 133.3 390.5 152.0 381.5 169.9 373.5 185.4 367.3 201.8 361.5 212.6 358.3 225.9 355.1 241.4 352.0 305.2 340.3 384.5 327.5" stroke="#a60000" stroke-width="0.75"/>
<path d="M72.5 459.2 80.4 448.3 90.5 433.3 96.8 425.1 101.4 419.6 111.5 408.5 116.2 403.7 120.1 400.1 123.2 397.5 127.1 394.7 134.1 390.5 152.8 381.5 170.6 373.6 186.2 367.3 202.5 361.5 213.4 358.3 225.9 355.4 241.4 352.3 306.0 340.5 384.5 327.8" stroke="#990000" stroke-width="0.75"/>
<path d="M72.5 459.2 81.2 447.4 91.3 432.8 97.5 424.7 101.4 420.2 113.1 407.4 117.0 403.4 120.9 399.9 127.1 395.1 130.2 393.1 134.1 390.9 153.5 381.5 171.4 373.6 187.0 367.4 202.5 361.8 213.4 358.6 225.9 355.7 240.6 352.8 306.0 340.8 384.5 328.1" stroke="#8c0000" stroke-width="0.75"/>
<path d="M72.5 459.2 81.2 447.7 91.3 433.3 97.5 425.3 101.4 420.8 113.1 407.9 117.0 404.0 120.9 400.4 127.1 395.6 130.2 393.6 134.1 391.3 154.3 381.6 173.0 373.3 187.8 367.4 202.5 362.1 213.4 358.9 225.9 356.0 239.9 353.3 306.7 341.0 384.5 328.4" stroke="#800000" stroke-width="2.2"/>
</g>
<g clip-path="url(#cpC)" fill="none" stroke-linejoin="round">
<path d="M453.2 -8.3 566.8 85.7 572.5 90.2 576.2 92.7 579.3 94.3 583.5 96.0 666.3 126.1 684.0 132.7 697.0 137.9" stroke="#70008c" stroke-width="2.4"/>
<path d="M453.2 -8.2 566.8 85.7 572.5 90.3 576.2 92.8 579.3 94.4 583.5 96.0 664.7 125.5 682.9 132.4 697.0 138.0" stroke="#9f1fcc" stroke-width="0.75"/>
<path d="M453.2 -8.2 566.8 85.7 572.5 90.3 576.2 92.8 579.3 94.4 583.5 96.1 663.7 125.2 681.9 132.1 697.0 138.1" stroke="#9822d4" stroke-width="0.75"/>
<path d="M453.2 -8.1 566.8 85.8 572.5 90.3 576.2 92.8 579.3 94.4 583.5 96.1 663.1 125.1 680.9 131.8 697.0 138.2" stroke="#9126db" stroke-width="0.75"/>
<path d="M451.7 -8.3 467.8 4.5 488.1 21.0 568.4 87.1 573.0 90.8 576.2 92.8 579.3 94.4 583.5 96.1 662.6 124.9 679.8 131.5 697.0 138.4" stroke="#8a2be3" stroke-width="0.75"/>
<path d="M446.0 -8.2 454.3 -3.0 463.1 3.1 473.0 10.2 484.5 18.9 514.2 42.6 568.9 87.6 573.0 90.8 576.2 92.9 579.8 94.7 584.5 96.6 666.8 126.5 681.4 132.2 697.0 138.5" stroke="#812feb" stroke-width="0.75"/>
<path d="M414.2 -8.0 422.5 -6.7 429.8 -5.2 437.1 -3.2 444.4 -0.8 451.2 1.9 458.5 5.3 465.8 9.1 473.6 13.8 480.3 18.2 487.6 23.2 504.3 35.5 528.2 54.5 569.9 88.5 574.1 91.6 577.7 93.8 580.9 95.2 585.5 97.0 664.2 125.6 679.3 131.4 697.0 138.6" stroke="#5c2ceb" stroke-width="0.75"/>
<path d="M384.5 4.4 401.2 4.8 414.2 5.4 425.6 6.3 435.5 7.5 444.9 9.2 453.2 11.2 461.6 13.8 469.4 16.9 477.7 20.8 486.6 25.7 496.0 31.5 506.4 38.6 517.8 47.0 530.9 57.1 570.4 89.0 574.1 91.7 577.2 93.6 580.3 95.1 585.0 96.9 664.7 125.9 678.8 131.3 697.0 138.7" stroke="#3628eb" stroke-width="0.75"/>
<path d="M384.5 15.4 404.3 15.6 419.9 16.1 432.4 16.8 443.4 17.8 453.2 19.2 462.6 21.2 471.0 23.5 479.3 26.4 487.6 30.0 496.0 34.3 504.8 39.6 514.2 45.7 524.6 53.1 536.1 61.8 571.0 89.5 574.6 92.1 577.7 93.9 580.9 95.4 585.5 97.2 663.7 125.5 677.7 131.0 697.0 138.9" stroke="#253ceb" stroke-width="0.75"/>
<path d="M384.5 24.4 407.9 24.6 425.1 25.0 439.2 25.6 450.6 26.5 461.1 27.7 470.4 29.4 479.3 31.6 487.6 34.3 495.4 37.5 503.8 41.6 512.1 46.3 521.0 51.9 530.3 58.3 540.8 66.0 571.5 90.1 575.1 92.5 578.2 94.3 585.5 97.3 662.6 125.2 676.7 130.7 697.0 139.0" stroke="#225feb" stroke-width="0.75"/>
<path d="M384.5 32.5 429.8 32.9 444.9 33.4 456.9 34.2 467.8 35.3 477.7 36.9 486.6 38.9 494.9 41.4 502.2 44.2 510.0 47.7 517.8 51.9 526.2 56.9 535.0 62.8 544.4 69.5 572.0 90.6 575.6 93.0 578.8 94.7 586.1 97.6 635.5 115.3 661.6 124.9 676.2 130.5 697.0 139.1" stroke="#1e83eb" stroke-width="1.8"/>
<path d="M384.5 39.3 434.5 39.7 450.1 40.1 462.6 40.7 473.6 41.7 483.5 43.1 492.8 45.1 501.2 47.4 508.5 50.0 515.8 53.2 523.0 56.9 530.9 61.4 538.7 66.4 547.5 72.5 572.0 90.8 575.6 93.2 579.3 95.1 586.1 97.8 632.9 114.5 661.1 124.7 675.6 130.4 697.0 139.3" stroke="#20a6eb" stroke-width="0.75"/>
<path d="M384.5 45.6 438.7 45.9 454.8 46.2 467.8 46.8 479.3 47.7 489.2 49.0 498.6 50.8 506.9 52.9 514.2 55.4 521.0 58.2 527.7 61.5 535.0 65.5 542.3 70.0 550.1 75.2 572.5 91.5 576.2 93.7 579.8 95.5 586.1 98.0 630.3 113.7 660.0 124.4 674.6 130.1 697.0 139.4" stroke="#22c8eb" stroke-width="0.75"/>
<path d="M384.5 51.1 442.8 51.4 459.5 51.7 472.5 52.2 484.5 53.0 494.4 54.2 503.8 55.8 512.1 57.9 518.9 60.0 525.1 62.5 531.9 65.5 538.7 69.1 545.4 73.1 552.2 77.5 572.5 91.8 576.2 94.0 579.8 95.8 586.1 98.2 628.2 113.0 659.5 124.3 674.6 130.2 697.0 139.5" stroke="#23ebeb" stroke-width="0.75"/>
<path d="M384.5 55.5 446.0 55.7 463.1 56.0 476.2 56.4 488.1 57.2 498.0 58.2 507.4 59.7 515.8 61.6 522.5 63.7 528.8 66.0 535.0 68.7 541.3 71.9 547.5 75.4 553.8 79.3 573.0 92.4 576.7 94.5 580.3 96.2 586.1 98.5 626.7 112.6 659.0 124.2 674.1 130.1 697.0 139.7" stroke="#2ee8b0" stroke-width="0.75"/>
<path d="M384.5 59.8 449.6 59.9 466.8 60.1 480.3 60.5 492.3 61.2 502.7 62.3 511.6 63.6 519.9 65.4 526.2 67.2 531.9 69.2 537.6 71.6 543.9 74.6 549.6 77.7 555.3 81.1 573.6 93.1 577.2 95.1 580.9 96.7 587.1 99.1 630.9 114.2 657.9 123.9 673.6 129.9 697.0 139.8" stroke="#39e67e" stroke-width="0.75"/>
<path d="M384.5 64.8 453.8 64.9 485.0 65.4 497.0 66.1 507.4 67.0 516.3 68.2 524.6 69.9 530.3 71.5 536.1 73.4 541.3 75.4 547.0 78.0 552.2 80.6 557.4 83.6 573.6 93.6 577.2 95.5 580.9 97.1 586.6 99.3 627.7 113.2 657.4 123.8 673.0 129.8 697.0 140.0" stroke="#34e655" stroke-width="0.75"/>
<path d="M384.5 68.5 456.9 68.6 488.7 69.1 500.6 69.7 511.1 70.6 519.9 71.7 528.2 73.3 533.5 74.7 538.7 76.3 543.9 78.2 549.1 80.4 558.5 85.2 574.1 94.4 577.7 96.2 581.4 97.7 587.1 99.8 624.6 112.3 656.4 123.5 672.5 129.7 697.0 140.1" stroke="#32e62e" stroke-width="0.75"/>
<path d="M384.5 71.6 460.0 71.7 491.8 72.2 503.8 72.7 514.2 73.5 523.0 74.6 531.4 76.1 536.6 77.4 541.3 78.8 546.5 80.7 551.2 82.6 559.5 86.6 574.1 94.8 581.4 98.1 623.6 112.1 655.9 123.4 672.5 129.8 697.0 140.2" stroke="#45ee20" stroke-width="0.75"/>
<path d="M384.5 74.8 463.1 74.9 495.4 75.3 507.9 75.8 517.8 76.6 526.7 77.6 534.5 79.0 543.9 81.4 548.6 83.0 553.2 84.8 560.5 88.2 574.6 95.6 581.4 98.5 622.0 111.7 654.8 123.1 672.0 129.7 697.0 140.4" stroke="#5ff710" stroke-width="0.75"/>
<path d="M384.5 77.8 465.8 77.8 498.0 78.2 510.5 78.6 520.4 79.3 529.3 80.3 537.1 81.6 546.0 83.8 554.3 86.6 561.6 89.7 575.1 96.4 582.4 99.3 623.0 112.3 642.8 119.0 659.0 124.7 673.0 130.2 697.0 140.5" stroke="#80ff00" stroke-width="1.6"/>
<path d="M384.5 80.1 468.9 80.2 501.2 80.5 513.7 80.9 523.6 81.6 531.9 82.5 539.7 83.7 548.0 85.7 555.9 88.2 562.6 91.0 575.6 97.1 582.4 99.7 621.0 111.7 639.7 118.0 655.9 123.7 672.0 129.9 697.0 140.7" stroke="#a2ff0a" stroke-width="0.75"/>
<path d="M384.5 82.4 471.0 82.4 503.2 82.7 515.8 83.1 525.6 83.7 534.0 84.5 541.8 85.7 548.6 87.2 555.3 89.2 561.6 91.5 575.1 97.4 581.9 99.9 618.9 111.3 636.1 116.9 652.2 122.5 662.6 126.3 671.0 129.5 697.0 140.8" stroke="#c2ff14" stroke-width="0.75"/>
<path d="M384.5 84.5 474.1 84.6 506.4 84.8 518.4 85.2 528.2 85.8 536.6 86.6 544.4 87.8 551.2 89.2 557.4 91.0 563.1 93.0 575.6 98.1 581.9 100.4 617.3 111.0 633.5 116.2 649.1 121.5 660.5 125.6 669.9 129.2 697.0 140.9" stroke="#e0ff1f" stroke-width="0.75"/>
<path d="M384.5 86.6 476.2 86.6 508.5 86.9 520.4 87.2 530.3 87.7 538.7 88.5 546.5 89.6 553.2 91.0 559.5 92.7 581.9 100.8 615.2 110.5 630.3 115.3 645.4 120.3 658.5 124.9 668.9 128.9 697.0 141.1" stroke="#fbff29" stroke-width="0.75"/>
<path d="M384.5 88.5 478.8 88.5 511.1 88.8 523.0 89.1 532.9 89.6 541.3 90.3 548.6 91.4 554.8 92.6 561.1 94.3 581.4 101.2 614.2 110.4 628.2 114.8 642.8 119.5 657.4 124.6 668.4 128.8 697.0 141.2" stroke="#ffeb33" stroke-width="0.75"/>
<path d="M384.5 90.2 481.4 90.3 513.7 90.5 525.6 90.8 535.0 91.3 543.4 92.0 550.6 93.0 556.9 94.2 563.1 95.8 582.4 102.0 604.3 107.8 617.3 111.6 640.8 119.0 655.9 124.1 667.8 128.6 676.2 132.1 697.0 141.3" stroke="#ffd829" stroke-width="0.75"/>
<path d="M384.5 91.8 483.5 91.9 515.2 92.0 527.2 92.3 537.1 92.8 544.9 93.4 552.2 94.4 557.9 95.4 563.1 96.7 582.9 102.6 608.5 109.2 623.0 113.5 638.7 118.4 654.8 123.8 667.3 128.5 675.6 132.0 697.0 141.5" stroke="#ffc41f" stroke-width="0.75"/>
<path d="M384.5 93.2 485.5 93.2 517.3 93.4 529.3 93.7 538.7 94.1 546.5 94.7 553.8 95.6 559.0 96.6 564.7 97.9 582.9 103.0 606.9 109.0 621.5 113.2 637.6 118.2 653.8 123.5 666.8 128.4 675.6 132.1 697.0 141.6" stroke="#ffaf14" stroke-width="0.75"/>
<path d="M384.5 94.4 487.6 94.4 519.4 94.6 531.4 94.8 540.8 95.2 548.6 95.9 555.3 96.7 560.5 97.6 566.3 98.9 583.5 103.4 605.9 109.0 620.4 113.0 636.6 117.9 653.2 123.4 666.3 128.2 675.1 131.9 697.0 141.7" stroke="#ff980a" stroke-width="0.75"/>
<path d="M384.5 95.3 489.7 95.3 521.0 95.4 532.9 95.7 542.3 96.1 550.1 96.7 556.9 97.6 567.3 99.6 605.9 109.1 620.4 113.1 636.6 118.0 653.2 123.5 666.3 128.3 675.1 132.0 697.0 141.9" stroke="#ff7f00" stroke-width="1.6"/>
<path d="M384.5 96.0 522.5 96.2 543.4 96.8 551.2 97.4 557.9 98.2 568.9 100.3 604.8 108.9 619.9 113.0 636.1 117.8 652.7 123.3 666.3 128.3 675.1 132.0 697.0 142.0" stroke="#ff6f00" stroke-width="0.75"/>
<path d="M384.5 96.7 524.1 96.8 544.4 97.4 552.2 98.0 559.0 98.8 569.9 100.8 604.8 109.0 619.9 113.0 636.1 117.9 652.7 123.3 666.3 128.3 675.1 132.1 697.0 142.1" stroke="#ff5f00" stroke-width="0.75"/>
<path d="M384.5 97.2 525.6 97.4 546.0 98.0 553.8 98.6 560.5 99.4 571.5 101.4 604.8 109.1 619.9 113.1 636.6 118.1 653.2 123.5 666.3 128.4 675.1 132.1 697.0 142.2" stroke="#ff4e00" stroke-width="0.75"/>
<path d="M384.5 97.8 527.2 97.9 547.5 98.5 554.8 99.1 561.6 99.9 573.0 102.0 604.8 109.2 619.9 113.1 636.6 118.1 653.2 123.6 666.3 128.4 675.1 132.2 697.0 142.3" stroke="#ff3e00" stroke-width="0.75"/>
<path d="M384.5 98.3 528.2 98.4 548.6 99.0 555.9 99.5 562.6 100.3 574.6 102.5 604.3 109.1 619.9 113.1 636.6 118.1 653.2 123.6 666.3 128.4 675.1 132.3 697.0 142.5" stroke="#ff2e00" stroke-width="0.75"/>
<path d="M384.5 98.7 529.8 98.8 549.6 99.4 556.9 99.9 563.7 100.7 576.2 103.0 604.3 109.1 619.9 113.1 636.6 118.1 653.2 123.6 666.3 128.5 674.6 132.1 697.0 142.6" stroke="#ff2500" stroke-width="0.75"/>
<path d="M384.5 99.1 530.9 99.2 550.6 99.8 557.9 100.3 564.7 101.1 577.7 103.4 604.8 109.3 620.4 113.3 637.1 118.3 653.2 123.6 666.3 128.5 674.6 132.1 697.0 142.7" stroke="#ff1c00" stroke-width="0.75"/>
<path d="M384.5 99.5 532.4 99.6 551.7 100.2 559.0 100.7 565.8 101.5 579.8 103.9 604.8 109.3 620.4 113.3 637.1 118.3 653.2 123.6 666.3 128.5 674.6 132.2 697.0 142.8" stroke="#ff1200" stroke-width="0.75"/>
<path d="M384.5 99.9 534.0 100.0 553.2 100.6 560.5 101.1 567.3 101.9 581.9 104.5 605.3 109.5 621.0 113.5 638.1 118.6 654.3 124.0 666.8 128.8 674.6 132.2 697.0 143.0" stroke="#ff0900" stroke-width="0.75"/>
<path d="M384.5 100.3 535.0 100.4 554.3 100.9 561.6 101.5 568.4 102.3 583.5 104.9 605.3 109.5 621.0 113.5 638.1 118.6 654.3 124.0 666.8 128.8 674.6 132.3 689.2 139.5 697.0 143.1" stroke="#ff0000" stroke-width="1.8"/>
<path d="M384.5 100.7 536.1 100.8 555.3 101.3 562.6 101.8 569.4 102.6 585.0 105.3 605.9 109.7 621.5 113.7 638.7 118.8 654.3 124.0 666.8 128.9 674.6 132.4 689.2 139.6 697.0 143.2" stroke="#f20000" stroke-width="0.75"/>
<path d="M384.5 101.0 537.6 101.1 556.9 101.7 564.2 102.2 571.0 103.0 587.1 105.8 606.4 109.8 622.0 113.8 639.2 119.0 654.8 124.2 666.8 128.9 674.6 132.4 689.2 139.7 697.0 143.4" stroke="#e60000" stroke-width="0.75"/>
<path d="M384.5 101.4 538.7 101.5 557.4 102.0 564.7 102.5 572.0 103.4 588.1 106.1 606.9 110.0 622.5 114.0 639.7 119.1 654.8 124.3 666.8 128.9 674.6 132.5 689.2 139.8 697.0 143.5" stroke="#d90000" stroke-width="0.75"/>
<path d="M384.5 101.7 540.2 101.8 559.0 102.4 566.3 102.9 573.6 103.8 589.7 106.4 607.9 110.3 623.6 114.3 640.8 119.5 655.9 124.7 667.3 129.2 674.6 132.5 689.2 139.9 697.0 143.6" stroke="#cc0000" stroke-width="0.75"/>
<path d="M384.5 102.1 541.3 102.2 560.0 102.7 567.3 103.2 574.6 104.1 590.8 106.7 608.5 110.4 624.1 114.4 640.8 119.5 655.9 124.7 667.3 129.2 674.6 132.6 689.2 140.0 697.0 143.7" stroke="#bf0000" stroke-width="0.75"/>
<path d="M384.5 102.4 542.8 102.5 561.6 103.0 568.9 103.6 576.2 104.4 592.3 107.1 609.5 110.7 625.1 114.8 641.8 119.9 655.9 124.7 667.3 129.3 674.6 132.7 689.2 140.1 697.0 143.9" stroke="#b30000" stroke-width="0.75"/>
<path d="M384.5 102.7 543.9 102.8 562.6 103.3 569.9 103.9 577.2 104.7 593.4 107.3 610.0 110.8 625.6 114.9 642.3 120.0 656.4 124.9 667.3 129.3 674.6 132.7 689.2 140.3 697.0 144.0" stroke="#a60000" stroke-width="0.75"/>
<path d="M384.5 103.0 544.9 103.1 563.7 103.6 571.5 104.2 578.8 105.0 594.9 107.7 611.1 111.1 626.7 115.2 643.4 120.4 656.9 125.1 667.8 129.6 674.6 132.8 689.2 140.4 697.0 144.2" stroke="#990000" stroke-width="0.75"/>
<path d="M384.5 103.2 546.0 103.3 564.7 103.9 572.5 104.5 579.8 105.3 595.4 107.8 611.6 111.2 627.2 115.4 643.9 120.6 657.4 125.4 667.8 129.6 674.6 132.8 689.2 140.5 697.0 144.3" stroke="#8c0000" stroke-width="0.75"/>
<path d="M384.5 103.5 547.0 103.6 565.8 104.1 573.6 104.7 580.9 105.5 596.5 108.0 612.1 111.4 627.7 115.5 644.4 120.8 657.4 125.4 667.8 129.7 674.6 132.9 689.2 140.6 697.0 144.4" stroke="#800000" stroke-width="2.2"/>
</g>
<g clip-path="url(#cpD)" fill="none" stroke-linejoin="round">
<path d="M384.5 264.6 384.9 264.0 385.5 263.6 386.2 263.5 387.0 263.6 389.3 264.8 391.7 266.9 394.0 269.7 397.1 274.3 399.5 278.5 401.8 283.2 404.9 290.7 408.0 300.1 410.4 308.9 414.3 325.4 416.6 333.9 418.9 340.5 420.5 343.8 422.0 346.6 423.6 348.9 425.9 351.6 427.5 353.1 429.8 354.8 432.2 356.1 434.5 357.1 436.8 357.9 440.0 358.6 445.4 359.1 450.9 359.1 457.1 358.6 464.9 357.5 481.2 354.3 521.0 345.4 542.8 340.7 563.8 336.5 584.8 332.7 610.5 328.4 637.8 324.2 666.6 320.3 697.0 316.6" stroke="#70008c" stroke-width="2.4"/>
<path d="M384.5 459.2 384.8 284.7 385.0 275.7 385.3 270.5 385.9 267.4 386.2 266.8 387.0 265.8 387.8 265.6 388.6 265.7 390.1 266.4 391.7 267.7 394.0 270.3 396.3 273.6 398.7 277.5 402.6 285.3 405.7 293.2 408.0 300.5 410.4 309.2 414.3 325.5 416.6 333.9 418.9 340.4 421.3 345.3 422.8 347.8 425.2 350.8 426.7 352.4 429.1 354.3 431.4 355.7 433.7 356.8 436.8 357.9 440.0 358.5 444.6 359.0 450.1 359.0 456.3 358.5 464.1 357.4 480.5 354.2 518.6 345.7 540.4 341.0 561.5 336.8 583.3 332.8 609.8 328.4 637.0 324.3 665.8 320.4 697.0 316.6" stroke="#9f1fcc" stroke-width="0.75"/>
<path d="M384.5 459.2 384.8 340.1 385.2 295.4 385.6 283.0 386.2 276.3 387.0 272.4 387.8 270.5 388.6 269.7 389.3 269.3 390.9 269.6 392.4 270.6 394.8 273.0 397.1 276.2 399.5 280.0 403.4 288.1 405.7 294.2 408.0 301.5 414.3 325.8 416.6 334.0 418.9 340.5 421.3 345.4 422.8 347.9 425.2 350.9 426.7 352.5 429.1 354.4 431.4 355.9 433.7 356.9 436.8 358.0 440.0 358.6 444.6 359.1 450.1 359.1 455.5 358.6 462.6 357.7 478.1 354.6 516.3 346.0 538.1 341.4 559.9 337.0 582.5 332.9 609.0 328.5 636.2 324.4 665.8 320.4 697.0 316.6" stroke="#9822d4" stroke-width="0.75"/>
<path d="M384.5 459.2 385.1 348.9 385.7 302.5 386.2 291.1 387.0 282.3 387.8 278.1 388.6 275.7 389.3 274.4 390.1 273.7 390.9 273.4 391.7 273.4 393.2 274.1 394.8 275.4 396.3 277.1 397.9 279.3 400.2 283.2 403.4 289.7 405.7 295.7 408.0 303.1 414.3 326.4 416.6 334.2 418.9 340.6 420.5 344.0 422.0 346.8 423.6 349.1 425.9 351.9 427.5 353.4 429.8 355.1 432.2 356.4 434.5 357.4 437.6 358.3 440.7 358.9 446.2 359.2 451.6 359.1 457.9 358.4 465.7 357.1 477.4 354.8 515.5 346.1 540.4 340.8 568.5 335.4 597.3 330.4 619.9 326.8 644.0 323.4 669.7 320.0 697.0 316.7" stroke="#9126db" stroke-width="0.75"/>
<path d="M384.5 459.2 385.4 355.6 386.2 313.0 387.0 297.0 387.8 289.1 388.6 284.5 389.3 281.7 390.1 280.0 390.9 278.9 391.7 278.3 392.4 278.1 394.0 278.4 395.6 279.4 397.1 281.0 398.7 283.1 400.2 285.6 403.4 291.9 404.9 295.8 407.2 302.7 414.3 327.3 416.6 334.7 418.9 340.8 422.0 347.0 423.6 349.4 425.9 352.2 427.5 353.7 429.8 355.4 432.2 356.8 434.5 357.7 437.6 358.6 440.7 359.2 445.4 359.5 450.9 359.3 457.1 358.7 464.9 357.4 478.1 354.7 517.1 345.7 538.1 341.3 566.1 335.8 595.0 330.8 618.3 327.1 642.5 323.6 669.0 320.1 697.0 316.8" stroke="#8a2be3" stroke-width="0.75"/>
<path d="M384.5 459.2 386.2 351.1 387.0 325.0 387.8 310.3 388.6 301.4 389.3 295.8 390.1 291.9 390.9 289.4 391.7 287.6 392.4 286.4 393.2 285.7 394.0 285.4 394.8 285.3 396.3 285.8 398.7 287.9 401.0 291.3 403.4 295.8 404.9 299.6 407.2 306.2 413.5 326.8 416.6 336.1 418.9 341.9 422.0 347.9 423.6 350.2 425.9 353.0 427.5 354.5 429.8 356.3 432.2 357.6 434.5 358.5 437.6 359.4 440.7 359.9 445.4 360.2 450.9 360.0 456.3 359.4 463.3 358.2 475.8 355.5 513.2 346.8 534.2 342.2 561.5 336.9 591.1 331.6 615.2 327.7 640.1 324.1 667.4 320.5 697.0 316.9" stroke="#812feb" stroke-width="0.75"/>
<path d="M384.5 459.2 387.0 351.1 387.8 331.8 388.6 319.0 389.3 310.4 390.1 304.5 390.9 300.3 391.7 297.3 392.4 295.1 393.2 293.6 394.0 292.6 394.8 291.9 395.6 291.6 396.3 291.6 397.1 291.8 398.7 292.8 401.0 295.7 403.4 300.0 404.9 303.5 407.2 309.8 413.5 328.9 416.6 337.5 419.7 344.5 422.8 349.8 424.4 351.9 426.7 354.5 428.3 355.8 430.6 357.4 433.0 358.6 435.3 359.5 438.4 360.3 441.5 360.7 446.2 360.8 450.9 360.6 456.3 359.9 462.6 358.8 474.2 356.3 510.1 347.7 530.3 343.2 557.6 337.7 586.4 332.6 611.3 328.5 637.0 324.7 665.8 320.9 697.0 317.1" stroke="#5c2ceb" stroke-width="0.75"/>
<path d="M384.5 459.2 387.0 379.0 387.8 358.4 389.3 330.9 390.9 315.9 392.4 307.5 394.0 302.9 394.8 301.4 395.6 300.4 396.3 299.8 397.1 299.6 397.9 299.6 399.5 300.3 401.0 301.8 403.4 305.6 406.5 312.6 413.5 331.9 416.6 339.7 419.7 346.2 422.8 351.2 424.4 353.2 426.7 355.7 429.1 357.6 431.4 359.0 433.7 360.1 436.1 360.8 439.2 361.5 442.3 361.8 446.2 361.8 450.9 361.5 455.5 360.9 461.8 359.7 472.7 357.3 506.2 349.0 525.6 344.5 552.1 339.1 580.9 333.8 607.4 329.4 633.9 325.4 664.3 321.3 697.0 317.3" stroke="#3628eb" stroke-width="0.75"/>
<path d="M384.5 459.2 387.8 382.5 388.6 366.7 390.1 342.8 391.7 327.8 393.2 318.6 394.0 315.5 395.6 311.3 396.3 310.0 397.1 309.1 397.9 308.5 398.7 308.3 399.5 308.4 401.0 309.3 402.6 311.1 404.1 313.6 407.2 320.2 413.5 335.5 416.6 342.5 419.7 348.4 421.3 350.9 423.6 354.1 425.2 355.8 427.5 358.0 429.8 359.6 432.2 360.9 434.5 361.8 436.8 362.4 440.0 362.9 443.1 363.1 447.0 363.0 450.9 362.7 460.2 361.1 471.1 358.5 503.1 350.3 521.0 346.0 546.7 340.6 574.7 335.3 603.5 330.3 630.8 326.2 661.9 322.0 697.0 317.6" stroke="#253ceb" stroke-width="0.75"/>
<path d="M384.5 459.2 389.3 378.3 390.1 367.2 391.7 349.6 393.2 337.4 394.8 329.3 395.6 326.3 397.1 322.3 397.9 321.0 398.7 320.2 399.5 319.7 400.2 319.5 401.0 319.6 401.8 320.0 403.4 321.4 404.9 323.5 407.2 327.6 414.3 342.1 417.4 348.0 421.3 354.0 424.4 357.7 425.9 359.1 428.3 360.9 430.6 362.3 433.0 363.4 437.6 364.6 443.1 365.0 450.1 364.5 458.7 362.9 468.8 360.4 499.9 352.0 517.9 347.5 542.8 342.0 570.0 336.7 600.4 331.4 627.7 327.2 660.4 322.6 697.0 318.1" stroke="#225feb" stroke-width="0.75"/>
<path d="M384.5 459.2 390.1 387.4 391.7 370.1 393.2 356.4 394.8 346.3 395.6 342.5 397.1 336.7 398.7 333.1 399.5 332.0 400.2 331.3 401.0 330.9 401.8 330.7 403.4 331.3 405.7 333.5 408.8 338.0 415.0 348.6 418.2 353.4 422.0 358.4 425.2 361.4 429.1 364.0 431.4 365.1 433.7 366.0 438.4 366.8 443.9 367.0 450.1 366.4 457.9 364.8 468.0 362.1 496.8 353.8 514.0 349.3 538.1 343.8 564.6 338.4 595.7 332.8 624.6 328.2 658.1 323.5 697.0 318.6" stroke="#1e83eb" stroke-width="1.8"/>
<path d="M384.5 459.2 390.9 388.8 392.4 373.8 394.0 361.6 395.6 352.4 396.3 348.8 397.9 343.5 399.5 340.1 400.2 339.0 401.0 338.3 401.8 337.9 402.6 337.8 404.1 338.2 406.5 340.0 409.6 343.8 415.8 352.7 418.9 356.8 422.0 360.2 425.9 363.4 429.8 365.7 432.2 366.6 434.5 367.3 439.2 367.9 444.6 367.9 451.6 367.0 460.2 365.1 496.8 354.4 517.9 348.8 538.9 344.0 561.5 339.4 592.6 333.7 623.0 328.7 657.3 323.9 697.0 318.9" stroke="#20a6eb" stroke-width="0.75"/>
<path d="M384.5 459.2 391.7 390.1 393.2 376.9 394.8 366.2 396.3 357.9 397.1 354.6 398.7 349.7 400.2 346.6 401.0 345.6 402.6 344.5 403.4 344.3 404.9 344.5 407.2 346.0 410.4 349.1 416.6 356.4 419.7 359.8 422.8 362.7 426.7 365.3 430.6 367.2 435.3 368.4 440.0 368.9 445.4 368.8 452.4 367.7 460.2 365.9 495.3 355.3 515.5 349.8 535.8 345.1 559.1 340.2 590.3 334.4 621.4 329.3 656.5 324.3 697.0 319.1" stroke="#22c8eb" stroke-width="0.75"/>
<path d="M384.5 459.2 387.0 439.0 392.4 391.3 394.0 379.7 395.6 370.1 397.1 362.7 397.9 359.8 399.5 355.4 401.0 352.5 401.8 351.6 403.4 350.5 404.1 350.2 405.7 350.3 407.2 350.9 408.8 351.9 411.1 353.8 418.2 360.5 421.3 363.2 424.4 365.4 428.3 367.4 432.2 368.7 436.8 369.6 441.5 369.8 446.2 369.5 452.4 368.5 460.2 366.6 494.5 356.0 513.2 350.8 533.4 346.0 556.8 341.0 588.7 335.0 620.7 329.7 655.7 324.7 697.0 319.4" stroke="#23ebeb" stroke-width="0.75"/>
<path d="M384.5 459.2 387.8 435.2 392.4 398.0 394.0 387.0 395.6 377.6 397.1 370.1 397.9 367.1 399.5 362.3 400.2 360.4 401.8 357.8 402.6 356.9 404.1 355.8 404.9 355.5 406.5 355.5 408.0 355.8 409.6 356.5 412.7 358.5 418.9 363.3 422.0 365.4 425.2 367.2 429.1 368.8 433.0 369.9 437.6 370.5 442.3 370.5 447.0 370.2 453.2 369.1 461.0 367.1 493.7 356.7 512.4 351.4 532.7 346.5 555.2 341.7 587.2 335.6 619.9 330.2 654.9 325.1 697.0 319.7" stroke="#2ee8b0" stroke-width="0.75"/>
<path d="M384.5 459.2 387.8 437.5 393.2 398.3 394.8 388.5 396.3 380.2 397.9 373.6 400.2 366.6 401.0 365.0 402.6 362.5 403.4 361.7 404.9 360.5 405.7 360.2 407.2 360.0 408.8 360.1 410.4 360.5 413.5 362.0 420.5 366.2 423.6 367.8 426.7 369.1 430.6 370.3 434.5 371.0 438.4 371.3 443.1 371.2 447.8 370.7 454.0 369.5 461.0 367.7 492.9 357.4 510.8 352.2 531.1 347.2 554.5 342.1 586.4 336.1 619.1 330.6 654.2 325.5 697.0 320.0" stroke="#39e67e" stroke-width="0.75"/>
<path d="M384.5 459.2 387.8 439.4 394.0 398.7 395.6 390.0 397.1 382.6 398.7 376.8 401.0 370.5 401.8 369.0 403.4 366.7 404.9 365.2 406.5 364.3 408.8 363.9 411.9 364.3 415.0 365.4 424.4 369.5 427.5 370.5 431.4 371.3 435.3 371.8 439.2 371.9 443.9 371.7 448.5 371.2 454.8 369.9 461.8 368.0 492.9 357.8 510.1 352.8 530.3 347.7 552.9 342.8 584.8 336.6 618.3 331.0 653.4 325.9 697.0 320.3" stroke="#34e655" stroke-width="0.75"/>
<path d="M384.5 459.2 387.8 441.0 394.0 403.4 397.1 388.0 399.5 379.6 401.8 374.0 404.1 370.4 405.7 369.0 407.2 368.0 408.8 367.5 410.4 367.2 413.5 367.5 416.6 368.3 425.2 371.0 429.1 371.8 433.0 372.4 436.8 372.6 440.7 372.5 448.5 371.7 454.8 370.4 461.8 368.5 492.1 358.4 509.3 353.3 529.5 348.2 552.1 343.2 584.1 337.1 618.3 331.3 653.4 326.2 697.0 320.5" stroke="#32e62e" stroke-width="0.75"/>
<path d="M384.5 459.2 387.8 442.4 394.8 403.6 397.9 389.8 400.2 382.4 402.6 377.2 404.1 374.8 405.7 373.0 407.2 371.8 408.8 370.9 411.1 370.2 414.3 370.1 417.4 370.6 426.7 372.5 434.5 373.2 441.5 373.1 449.3 372.1 454.8 370.9 461.8 369.0 492.1 358.8 509.3 353.7 528.8 348.7 551.3 343.7 583.3 337.5 617.6 331.7 652.6 326.5 697.0 320.8" stroke="#45ee20" stroke-width="0.75"/>
<path d="M384.5 459.2 388.6 439.8 394.8 407.7 397.1 397.4 398.7 391.8 401.0 385.1 402.6 381.7 404.1 379.0 405.7 377.0 407.2 375.5 408.8 374.4 410.4 373.6 412.7 372.9 415.8 372.6 428.3 373.8 436.1 374.0 442.3 373.6 449.3 372.7 454.8 371.5 461.8 369.5 492.1 359.2 508.5 354.2 528.0 349.2 550.6 344.2 582.5 338.0 617.6 332.0 652.6 326.8 697.0 321.1" stroke="#5ff710" stroke-width="0.75"/>
<path d="M384.5 459.2 388.6 441.3 395.6 408.2 397.9 399.0 399.5 393.9 401.8 387.8 403.4 384.7 404.9 382.1 406.5 380.1 408.0 378.6 409.6 377.4 411.9 376.1 414.3 375.4 417.4 375.0 430.6 375.1 439.2 374.7 446.2 373.9 451.6 372.9 457.1 371.5 462.6 369.9 493.7 359.2 503.1 356.3 512.4 353.6 524.1 350.5 537.3 347.4 552.1 344.2 568.5 341.0 600.4 335.2 625.3 331.1 657.3 326.6 697.0 321.4" stroke="#80ff00" stroke-width="1.6"/>
<path d="M384.5 459.2 388.6 442.7 395.6 412.1 397.9 403.4 400.2 396.2 401.8 392.3 403.4 389.0 404.9 386.3 406.5 384.1 408.0 382.4 409.6 380.9 411.1 379.8 413.5 378.6 415.8 377.8 418.9 377.2 439.2 375.7 447.0 374.6 452.4 373.5 462.6 370.6 492.1 360.2 509.3 354.9 520.2 352.0 531.9 349.1 559.1 343.2 591.1 337.2 620.7 332.2 654.2 327.4 697.0 321.8" stroke="#a2ff0a" stroke-width="0.75"/>
<path d="M384.5 459.2 388.6 444.0 396.3 412.8 398.7 405.0 401.0 398.4 404.1 391.7 407.2 387.0 408.8 385.2 411.1 383.1 412.7 382.0 415.0 380.8 417.4 379.9 420.5 379.2 443.1 376.1 448.5 375.2 453.2 374.1 463.3 371.0 491.4 361.1 506.9 356.2 517.1 353.3 528.0 350.6 552.1 345.1 584.1 338.9 617.6 333.2 651.8 328.1 697.0 322.1" stroke="#c2ff14" stroke-width="0.75"/>
<path d="M384.5 459.2 388.6 445.2 396.3 416.3 399.5 406.5 401.8 400.5 404.9 394.3 406.5 391.8 408.8 388.7 410.4 387.1 412.7 385.1 416.6 382.8 419.7 381.7 425.2 380.3 446.2 376.5 454.0 374.7 463.3 371.8 489.8 362.3 505.4 357.2 524.9 351.9 547.5 346.7 579.4 340.3 616.0 333.9 651.0 328.6 697.0 322.5" stroke="#e0ff1f" stroke-width="0.75"/>
<path d="M384.5 459.2 388.6 446.2 397.1 416.9 400.2 408.0 402.6 402.5 405.7 396.6 407.2 394.2 409.6 391.2 411.9 388.8 414.3 386.9 416.6 385.4 418.9 384.3 423.6 382.6 429.1 381.1 447.8 377.2 454.8 375.4 464.9 372.1 491.4 362.4 503.8 358.3 522.5 353.0 543.6 348.1 575.5 341.6 613.7 334.7 649.5 329.3 697.0 323.0" stroke="#fbff29" stroke-width="0.75"/>
<path d="M384.5 459.2 388.6 447.1 397.1 419.8 400.2 411.3 403.4 404.3 404.9 401.3 407.2 397.5 408.8 395.3 411.1 392.5 413.5 390.3 415.8 388.5 418.2 387.0 420.5 385.8 425.9 383.7 431.4 382.0 449.3 377.8 457.9 375.3 466.4 372.3 490.6 363.3 506.2 358.2 522.5 353.6 540.4 349.3 556.0 345.9 573.2 342.5 612.9 335.4 648.7 329.9 697.0 323.4" stroke="#ffeb33" stroke-width="0.75"/>
<path d="M384.5 459.2 388.6 447.9 397.9 420.3 401.8 410.7 404.9 404.4 408.8 398.3 411.1 395.3 413.5 392.9 415.8 390.9 418.2 389.3 420.5 388.0 424.4 386.1 429.1 384.2 433.7 382.7 450.9 378.2 458.7 375.8 489.0 364.6 503.8 359.5 520.2 354.8 539.7 350.0 554.5 346.8 571.6 343.4 612.1 336.0 647.9 330.5 697.0 323.8" stroke="#ffd829" stroke-width="0.75"/>
<path d="M384.5 459.2 388.6 448.6 398.7 420.6 402.6 411.7 406.5 404.5 408.8 401.0 411.1 397.9 413.5 395.4 415.8 393.2 420.5 389.9 424.4 387.8 428.3 386.0 432.2 384.5 436.8 382.9 450.9 379.1 458.7 376.6 489.0 365.2 503.1 360.4 519.4 355.6 538.9 350.8 553.7 347.5 570.8 344.0 612.1 336.5 647.9 331.0 697.0 324.3" stroke="#ffc41f" stroke-width="0.75"/>
<path d="M384.5 459.2 388.6 449.2 396.3 428.6 399.5 420.9 403.4 412.5 407.2 405.7 409.6 402.3 411.9 399.3 414.3 396.8 416.6 394.6 419.7 392.2 422.8 390.3 426.7 388.2 430.6 386.4 438.4 383.5 451.6 379.6 458.7 377.3 488.3 366.0 502.3 361.1 518.6 356.3 538.1 351.4 553.7 348.0 570.8 344.5 612.1 336.9 647.2 331.5 697.0 324.7" stroke="#ffaf14" stroke-width="0.75"/>
<path d="M384.5 459.2 388.6 449.6 396.3 430.1 399.5 422.7 403.4 414.6 408.0 406.6 410.4 403.3 412.7 400.4 415.0 397.9 418.2 395.1 421.3 392.8 425.2 390.4 429.1 388.2 433.0 386.4 440.0 383.8 451.6 380.3 458.7 377.9 487.5 366.8 501.5 361.8 517.9 356.9 537.3 352.0 552.9 348.6 570.0 345.1 592.6 340.8 612.1 337.3 647.2 331.9 697.0 325.0" stroke="#ff980a" stroke-width="0.75"/>
<path d="M384.5 459.2 400.2 422.6 404.1 414.9 408.8 407.2 411.1 403.9 413.5 401.1 415.8 398.6 418.9 395.9 422.8 393.0 426.7 390.5 430.6 388.4 434.5 386.6 440.7 384.2 452.4 380.5 459.4 378.1 486.7 367.4 500.7 362.4 517.1 357.5 536.5 352.6 552.1 349.1 569.3 345.6 611.3 337.8 646.4 332.4 697.0 325.4" stroke="#ff7f00" stroke-width="1.6"/>
<path d="M384.5 459.2 400.2 423.9 404.9 414.9 409.6 407.5 414.3 401.6 416.6 399.2 419.7 396.4 423.6 393.5 427.5 391.0 431.4 388.7 436.1 386.5 441.5 384.4 452.4 380.9 459.4 378.4 486.7 367.7 499.9 362.9 508.5 360.2 517.1 357.7 536.5 352.8 551.3 349.5 568.5 346.0 611.3 338.1 646.4 332.6 697.0 325.6" stroke="#ff6f00" stroke-width="0.75"/>
<path d="M384.5 459.2 389.3 449.0 397.9 429.9 401.0 423.4 405.7 414.9 410.4 407.7 412.7 404.6 415.8 401.1 418.2 398.8 421.3 396.2 425.2 393.3 429.1 390.7 433.0 388.5 437.6 386.4 443.1 384.3 458.7 378.9 485.9 368.2 499.9 363.1 516.3 358.1 535.8 353.2 550.6 349.9 567.7 346.4 611.3 338.3 645.6 333.0 697.0 325.9" stroke="#ff5f00" stroke-width="0.75"/>
<path d="M384.5 459.2 401.0 424.5 406.5 414.7 411.1 407.7 413.5 404.8 416.6 401.3 419.7 398.3 422.8 395.8 426.7 392.9 430.6 390.4 434.5 388.2 438.4 386.4 443.1 384.6 458.7 379.1 485.9 368.3 499.2 363.5 515.5 358.5 535.0 353.6 549.8 350.3 566.9 346.8 611.3 338.6 645.6 333.2 697.0 326.1" stroke="#ff4e00" stroke-width="0.75"/>
<path d="M384.5 459.2 389.3 449.6 397.9 431.6 401.8 423.9 407.2 414.5 411.9 407.7 414.3 404.8 417.4 401.4 420.5 398.5 424.4 395.3 428.3 392.4 432.2 389.9 436.1 387.8 440.0 386.1 458.7 379.3 485.1 368.7 499.2 363.6 506.9 361.1 515.5 358.6 535.0 353.7 549.8 350.4 566.9 346.9 611.3 338.7 645.6 333.4 697.0 326.3" stroke="#ff3e00" stroke-width="0.75"/>
<path d="M384.5 459.2 401.8 424.7 407.2 415.4 412.7 407.6 415.8 403.9 418.9 400.6 425.9 394.7 429.8 391.9 433.0 389.9 436.8 387.8 440.7 386.0 458.7 379.4 485.1 368.8 498.4 364.0 506.2 361.4 514.7 358.9 534.2 354.0 549.0 350.7 566.1 347.2 611.3 338.9 644.8 333.7 697.0 326.5" stroke="#ff2e00" stroke-width="0.75"/>
<path d="M384.5 459.2 389.3 450.0 398.7 431.4 402.6 424.1 408.0 415.1 412.7 408.4 415.8 404.6 418.9 401.4 422.8 397.8 426.7 394.6 430.6 391.8 433.7 389.8 437.6 387.7 441.5 385.9 460.2 378.9 486.7 368.3 498.4 364.0 506.2 361.5 514.7 359.0 534.2 354.0 549.0 350.8 566.1 347.4 611.3 339.1 644.8 333.9 697.0 326.7" stroke="#ff2500" stroke-width="0.75"/>
<path d="M384.5 459.2 402.6 424.9 408.0 415.9 413.5 408.2 416.6 404.5 419.7 401.3 427.5 394.6 430.6 392.2 434.5 389.7 438.4 387.6 442.3 385.8 459.4 379.3 485.9 368.6 497.6 364.3 505.4 361.8 514.0 359.2 533.4 354.3 548.2 351.1 565.4 347.6 611.3 339.2 644.8 334.1 697.0 326.9" stroke="#ff1c00" stroke-width="0.75"/>
<path d="M384.5 459.2 390.1 449.0 399.5 431.2 403.4 424.3 408.8 415.5 414.3 408.1 417.4 404.5 420.5 401.3 425.2 397.1 429.1 393.9 432.2 391.6 436.1 389.2 443.1 385.7 459.4 379.5 485.1 369.0 496.8 364.7 504.6 362.1 513.2 359.5 532.7 354.6 546.7 351.5 563.8 348.1 610.5 339.5 643.3 334.5 697.0 327.1" stroke="#ff1200" stroke-width="0.75"/>
<path d="M384.5 459.2 403.4 425.1 408.8 416.4 414.3 408.9 417.4 405.2 420.5 402.0 425.2 397.7 429.1 394.4 432.2 392.1 436.1 389.6 440.0 387.5 443.9 385.7 459.4 379.6 484.4 369.4 496.8 364.8 504.6 362.2 513.2 359.6 531.9 354.9 545.9 351.8 563.0 348.4 610.5 339.7 643.3 334.7 697.0 327.3" stroke="#ff0900" stroke-width="0.75"/>
<path d="M384.5 459.2 404.1 424.6 409.6 416.1 415.0 408.8 420.5 402.8 425.9 397.7 429.8 394.4 433.0 392.1 436.8 389.6 440.7 387.5 444.6 385.7 459.4 379.9 483.6 369.9 496.8 364.9 504.6 362.3 513.2 359.8 531.9 355.1 545.9 352.0 563.0 348.6 610.5 340.0 643.3 334.9 697.0 327.5" stroke="#ff0000" stroke-width="1.8"/>
<path d="M384.5 459.2 390.9 448.4 400.2 431.9 404.9 424.2 410.4 415.9 415.8 408.8 419.7 404.5 423.6 400.7 427.5 397.1 431.4 393.9 434.5 391.6 438.4 389.2 445.4 385.8 482.8 370.4 496.0 365.4 503.8 362.8 512.4 360.2 531.1 355.5 545.1 352.4 562.3 349.0 610.5 340.2 642.5 335.3 697.0 327.8" stroke="#f20000" stroke-width="0.75"/>
<path d="M384.5 459.2 404.9 425.0 410.4 416.8 415.8 409.7 419.7 405.3 423.6 401.5 427.5 397.8 431.4 394.5 434.5 392.2 438.4 389.8 442.3 387.7 446.2 385.9 482.0 371.0 496.0 365.6 503.8 363.0 512.4 360.4 531.1 355.7 545.1 352.6 561.5 349.4 610.5 340.5 642.5 335.6 697.0 328.0" stroke="#e60000" stroke-width="0.75"/>
<path d="M384.5 459.2 390.9 449.0 402.6 429.5 410.4 417.7 414.3 412.5 418.2 407.9 421.3 404.6 427.5 398.6 431.4 395.2 434.5 392.8 438.4 390.3 442.3 388.1 446.2 386.3 478.1 372.8 494.5 366.4 501.5 364.0 509.3 361.5 526.4 357.0 547.5 352.4 577.8 346.6 616.0 339.9 645.6 335.4 697.0 328.3" stroke="#d90000" stroke-width="0.75"/>
<path d="M384.5 459.2 391.7 448.0 403.4 429.0 410.4 418.6 414.3 413.4 418.2 408.8 422.8 403.9 428.3 398.6 432.2 395.3 435.3 392.9 439.2 390.4 443.1 388.2 479.7 372.4 495.3 366.3 502.3 363.9 510.1 361.5 527.2 357.1 548.2 352.5 578.6 346.7 616.0 340.2 644.8 335.8 697.0 328.6" stroke="#cc0000" stroke-width="0.75"/>
<path d="M384.5 459.2 392.4 447.1 404.1 428.5 411.1 418.4 415.0 413.3 418.9 408.8 424.4 403.2 429.1 398.6 433.0 395.3 436.1 393.0 439.2 390.9 443.1 388.7 447.0 386.9 480.5 372.4 496.0 366.3 510.1 361.8 527.2 357.3 548.2 352.8 578.6 347.0 616.0 340.5 644.8 336.1 697.0 328.9" stroke="#bf0000" stroke-width="0.75"/>
<path d="M384.5 459.2 392.4 447.4 404.1 429.2 411.9 418.2 415.8 413.2 419.7 408.8 425.9 402.4 430.6 398.0 436.8 393.1 440.0 391.0 443.9 388.9 482.0 372.0 496.8 366.3 510.8 361.8 528.0 357.4 549.0 352.9 580.2 347.1 616.8 340.6 644.8 336.4 697.0 329.2" stroke="#b30000" stroke-width="0.75"/>
<path d="M384.5 459.2 392.4 447.7 404.9 428.8 412.7 418.0 416.6 413.2 419.7 409.6 426.7 402.4 431.4 398.0 437.6 393.1 440.7 391.1 444.6 389.0 469.6 377.7 482.8 372.0 497.6 366.3 511.6 361.9 528.0 357.7 549.0 353.2 580.2 347.4 616.8 341.0 644.0 336.9 697.0 329.5" stroke="#a60000" stroke-width="0.75"/>
<path d="M384.5 459.2 392.4 448.0 405.7 428.4 412.7 418.8 416.6 414.0 420.5 409.7 427.5 402.4 432.2 398.0 438.4 393.2 441.5 391.2 445.4 389.1 469.6 378.1 483.6 372.0 498.4 366.3 511.6 362.1 528.0 358.0 549.0 353.5 580.2 347.7 616.8 341.3 644.0 337.2 697.0 329.8" stroke="#990000" stroke-width="0.75"/>
<path d="M384.5 459.2 393.2 447.2 406.5 428.0 413.5 418.6 420.5 410.5 428.3 402.4 433.0 398.1 439.2 393.3 445.4 389.6 469.6 378.4 484.4 372.0 498.4 366.6 512.4 362.2 528.8 358.1 549.0 353.8 580.2 348.0 616.8 341.6 644.0 337.6 697.0 330.2" stroke="#8c0000" stroke-width="0.75"/>
<path d="M384.5 459.2 393.2 447.5 406.5 428.7 413.5 419.4 420.5 411.3 428.3 403.2 433.0 398.8 439.2 393.9 445.4 390.2 468.8 379.2 485.1 372.0 499.2 366.6 512.4 362.5 528.8 358.4 549.0 354.2 580.2 348.4 616.8 342.0 643.3 338.0 697.0 330.5" stroke="#800000" stroke-width="2.2"/>
</g>
<line x1="270.6" y1="94.7" x2="384.5" y2="141.6" stroke="#000" stroke-width="3" stroke-dasharray="12.4 10"/><line x1="582.9" y1="94.8" x2="697" y2="141.1" stroke="#000" stroke-width="3" stroke-dasharray="13.2 9.9"/><line x1="72.5" y1="361.71" x2="384.5" y2="361.71" stroke="#000" stroke-width="1.1"/><line x1="384.5" y1="363.69" x2="697" y2="363.69" stroke="#000" stroke-width="1.1"/>
<line x1="188.57" y1="17.38" x2="151.42" y2="125.40" stroke="#000" stroke-width="2.0" stroke-dasharray="7 5.9"/><path d="M149.60 130.70L149.62 124.79L153.22 126.02Z" fill="#000"/><line x1="496.14" y1="8.38" x2="464.98" y2="120.36" stroke="#000" stroke-width="2.0" stroke-dasharray="8 4.8"/><path d="M463.10 127.10L463.15 119.85L466.81 120.87Z" fill="#000"/><line x1="103.40" y1="322.00" x2="103.40" y2="434.40" stroke="#000" stroke-width="1.9" stroke-dasharray="6.6 5.5"/><path d="M103.40 440.20L101.40 434.40L105.40 434.40Z" fill="#000"/><line x1="421.30" y1="317.00" x2="421.30" y2="430.40" stroke="#000" stroke-width="1.9" stroke-dasharray="6.6 5.5"/><path d="M421.30 436.20L419.30 430.40L423.30 430.40Z" fill="#000"/>
<rect x="72.5" y="1.3" width="312.0" height="198.7" fill="none" stroke="#3a3a3a" stroke-width="1.2"/><rect x="72.5" y="261.0" width="312.0" height="198.2" fill="none" stroke="#3a3a3a" stroke-width="1.2"/><rect x="384.5" y="1.3" width="312.5" height="198.7" fill="none" stroke="#3a3a3a" stroke-width="1.2"/><rect x="384.5" y="261.0" width="312.5" height="198.2" fill="none" stroke="#3a3a3a" stroke-width="1.2"/>
<path d="M103.81 200.00L103.81 197.50M103.81 1.30L103.81 3.80M122.12 200.00L122.12 197.50M122.12 1.30L122.12 3.80M135.11 200.00L135.11 197.50M135.11 1.30L135.11 3.80M145.19 200.00L145.19 197.50M145.19 1.30L145.19 3.80M153.43 200.00L153.43 197.50M153.43 1.30L153.43 3.80M160.39 200.00L160.39 197.50M160.39 1.30L160.39 3.80M166.42 200.00L166.42 197.50M166.42 1.30L166.42 3.80M171.74 200.00L171.74 197.50M171.74 1.30L171.74 3.80M176.50 200.00L176.50 196.20M176.50 1.30L176.50 5.10M207.81 200.00L207.81 197.50M207.81 1.30L207.81 3.80M226.12 200.00L226.12 197.50M226.12 1.30L226.12 3.80M239.11 200.00L239.11 197.50M239.11 1.30L239.11 3.80M249.19 200.00L249.19 197.50M249.19 1.30L249.19 3.80M257.43 200.00L257.43 197.50M257.43 1.30L257.43 3.80M264.39 200.00L264.39 197.50M264.39 1.30L264.39 3.80M270.42 200.00L270.42 197.50M270.42 1.30L270.42 3.80M275.74 200.00L275.74 197.50M275.74 1.30L275.74 3.80M280.50 200.00L280.50 196.20M280.50 1.30L280.50 5.10M311.81 200.00L311.81 197.50M311.81 1.30L311.81 3.80M330.12 200.00L330.12 197.50M330.12 1.30L330.12 3.80M343.11 200.00L343.11 197.50M343.11 1.30L343.11 3.80M353.19 200.00L353.19 197.50M353.19 1.30L353.19 3.80M361.43 200.00L361.43 197.50M361.43 1.30L361.43 3.80M368.39 200.00L368.39 197.50M368.39 1.30L368.39 3.80M374.42 200.00L374.42 197.50M374.42 1.30L374.42 3.80M379.74 200.00L379.74 197.50M379.74 1.30L379.74 3.80M72.50 174.05L75.00 174.05M384.50 174.05L382.00 174.05M72.50 158.87L75.00 158.87M384.50 158.87L382.00 158.87M72.50 148.10L75.00 148.10M384.50 148.10L382.00 148.10M72.50 139.75L75.00 139.75M384.50 139.75L382.00 139.75M72.50 132.92L75.00 132.92M384.50 132.92L382.00 132.92M72.50 127.15L75.00 127.15M384.50 127.15L382.00 127.15M72.50 122.15L75.00 122.15M384.50 122.15L382.00 122.15M72.50 117.74L75.00 117.74M384.50 117.74L382.00 117.74M72.50 113.80L76.30 113.80M384.50 113.80L380.70 113.80M72.50 87.85L75.00 87.85M384.50 87.85L382.00 87.85M72.50 72.67L75.00 72.67M384.50 72.67L382.00 72.67M72.50 61.90L75.00 61.90M384.50 61.90L382.00 61.90M72.50 53.55L75.00 53.55M384.50 53.55L382.00 53.55M72.50 46.72L75.00 46.72M384.50 46.72L382.00 46.72M72.50 40.95L75.00 40.95M384.50 40.95L382.00 40.95M72.50 35.95L75.00 35.95M384.50 35.95L382.00 35.95M72.50 31.54L75.00 31.54M384.50 31.54L382.00 31.54M72.50 27.60L76.30 27.60M384.50 27.60L380.70 27.60M415.86 200.00L415.86 197.50M415.86 1.30L415.86 3.80M434.20 200.00L434.20 197.50M434.20 1.30L434.20 3.80M447.21 200.00L447.21 197.50M447.21 1.30L447.21 3.80M457.31 200.00L457.31 197.50M457.31 1.30L457.31 3.80M465.56 200.00L465.56 197.50M465.56 1.30L465.56 3.80M472.53 200.00L472.53 197.50M472.53 1.30L472.53 3.80M478.57 200.00L478.57 197.50M478.57 1.30L478.57 3.80M483.90 200.00L483.90 197.50M483.90 1.30L483.90 3.80M488.67 200.00L488.67 196.20M488.67 1.30L488.67 5.10M520.02 200.00L520.02 197.50M520.02 1.30L520.02 3.80M538.37 200.00L538.37 197.50M538.37 1.30L538.37 3.80M551.38 200.00L551.38 197.50M551.38 1.30L551.38 3.80M561.48 200.00L561.48 197.50M561.48 1.30L561.48 3.80M569.72 200.00L569.72 197.50M569.72 1.30L569.72 3.80M576.70 200.00L576.70 197.50M576.70 1.30L576.70 3.80M582.74 200.00L582.74 197.50M582.74 1.30L582.74 3.80M588.07 200.00L588.07 197.50M588.07 1.30L588.07 3.80M592.83 200.00L592.83 196.20M592.83 1.30L592.83 5.10M624.19 200.00L624.19 197.50M624.19 1.30L624.19 3.80M642.53 200.00L642.53 197.50M642.53 1.30L642.53 3.80M655.55 200.00L655.55 197.50M655.55 1.30L655.55 3.80M665.64 200.00L665.64 197.50M665.64 1.30L665.64 3.80M673.89 200.00L673.89 197.50M673.89 1.30L673.89 3.80M680.86 200.00L680.86 197.50M680.86 1.30L680.86 3.80M686.91 200.00L686.91 197.50M686.91 1.30L686.91 3.80M692.23 200.00L692.23 197.50M692.23 1.30L692.23 3.80M384.50 174.05L387.00 174.05M697.00 174.05L694.50 174.05M384.50 158.87L387.00 158.87M697.00 158.87L694.50 158.87M384.50 148.10L387.00 148.10M697.00 148.10L694.50 148.10M384.50 139.75L387.00 139.75M697.00 139.75L694.50 139.75M384.50 132.92L387.00 132.92M697.00 132.92L694.50 132.92M384.50 127.15L387.00 127.15M697.00 127.15L694.50 127.15M384.50 122.15L387.00 122.15M697.00 122.15L694.50 122.15M384.50 117.74L387.00 117.74M697.00 117.74L694.50 117.74M384.50 113.80L388.30 113.80M697.00 113.80L693.20 113.80M384.50 87.85L387.00 87.85M697.00 87.85L694.50 87.85M384.50 72.67L387.00 72.67M697.00 72.67L694.50 72.67M384.50 61.90L387.00 61.90M697.00 61.90L694.50 61.90M384.50 53.55L387.00 53.55M697.00 53.55L694.50 53.55M384.50 46.72L387.00 46.72M697.00 46.72L694.50 46.72M384.50 40.95L387.00 40.95M697.00 40.95L694.50 40.95M384.50 35.95L387.00 35.95M697.00 35.95L694.50 35.95M384.50 31.54L387.00 31.54M697.00 31.54L694.50 31.54M384.50 27.60L388.30 27.60M697.00 27.60L693.20 27.60M88.10 459.20L88.10 457.20M88.10 261.00L88.10 263.00M103.70 459.20L103.70 457.20M103.70 261.00L103.70 263.00M119.30 459.20L119.30 457.20M119.30 261.00L119.30 263.00M134.90 459.20L134.90 455.70M134.90 261.00L134.90 264.50M150.50 459.20L150.50 457.20M150.50 261.00L150.50 263.00M166.10 459.20L166.10 457.20M166.10 261.00L166.10 263.00M181.70 459.20L181.70 457.20M181.70 261.00L181.70 263.00M197.30 459.20L197.30 455.70M197.30 261.00L197.30 264.50M212.90 459.20L212.90 457.20M212.90 261.00L212.90 263.00M228.50 459.20L228.50 457.20M228.50 261.00L228.50 263.00M244.10 459.20L244.10 457.20M244.10 261.00L244.10 263.00M259.70 459.20L259.70 455.70M259.70 261.00L259.70 264.50M275.30 459.20L275.30 457.20M275.30 261.00L275.30 263.00M290.90 459.20L290.90 457.20M290.90 261.00L290.90 263.00M306.50 459.20L306.50 457.20M306.50 261.00L306.50 263.00M322.10 459.20L322.10 455.70M322.10 261.00L322.10 264.50M337.70 459.20L337.70 457.20M337.70 261.00L337.70 263.00M353.30 459.20L353.30 457.20M353.30 261.00L353.30 263.00M368.90 459.20L368.90 457.20M368.90 261.00L368.90 263.00M72.50 446.81L74.80 446.81M384.50 446.81L382.20 446.81M72.50 434.43L74.80 434.43M384.50 434.43L382.20 434.43M72.50 422.04L74.80 422.04M384.50 422.04L382.20 422.04M72.50 409.65L76.50 409.65M384.50 409.65L380.50 409.65M72.50 397.26L74.80 397.26M384.50 397.26L382.20 397.26M72.50 384.88L74.80 384.88M384.50 384.88L382.20 384.88M72.50 372.49L74.80 372.49M384.50 372.49L382.20 372.49M72.50 360.10L76.50 360.10M384.50 360.10L380.50 360.10M72.50 347.71L74.80 347.71M384.50 347.71L382.20 347.71M72.50 335.32L74.80 335.32M384.50 335.32L382.20 335.32M72.50 322.94L74.80 322.94M384.50 322.94L382.20 322.94M72.50 310.55L76.50 310.55M384.50 310.55L380.50 310.55M72.50 298.16L74.80 298.16M384.50 298.16L382.20 298.16M72.50 285.77L74.80 285.77M384.50 285.77L382.20 285.77M72.50 273.39L74.80 273.39M384.50 273.39L382.20 273.39M400.12 459.20L400.12 457.20M400.12 261.00L400.12 263.00M415.75 459.20L415.75 457.20M415.75 261.00L415.75 263.00M431.38 459.20L431.38 457.20M431.38 261.00L431.38 263.00M447.00 459.20L447.00 455.70M447.00 261.00L447.00 264.50M462.62 459.20L462.62 457.20M462.62 261.00L462.62 263.00M478.25 459.20L478.25 457.20M478.25 261.00L478.25 263.00M493.88 459.20L493.88 457.20M493.88 261.00L493.88 263.00M509.50 459.20L509.50 455.70M509.50 261.00L509.50 264.50M525.12 459.20L525.12 457.20M525.12 261.00L525.12 263.00M540.75 459.20L540.75 457.20M540.75 261.00L540.75 263.00M556.38 459.20L556.38 457.20M556.38 261.00L556.38 263.00M572.00 459.20L572.00 455.70M572.00 261.00L572.00 264.50M587.62 459.20L587.62 457.20M587.62 261.00L587.62 263.00M603.25 459.20L603.25 457.20M603.25 261.00L603.25 263.00M618.88 459.20L618.88 457.20M618.88 261.00L618.88 263.00M634.50 459.20L634.50 455.70M634.50 261.00L634.50 264.50M650.12 459.20L650.12 457.20M650.12 261.00L650.12 263.00M665.75 459.20L665.75 457.20M665.75 261.00L665.75 263.00M681.38 459.20L681.38 457.20M681.38 261.00L681.38 263.00M384.50 446.81L386.80 446.81M697.00 446.81L694.70 446.81M384.50 434.43L386.80 434.43M697.00 434.43L694.70 434.43M384.50 422.04L386.80 422.04M697.00 422.04L694.70 422.04M384.50 409.65L388.50 409.65M697.00 409.65L693.00 409.65M384.50 397.26L386.80 397.26M697.00 397.26L694.70 397.26M384.50 384.88L386.80 384.88M697.00 384.88L694.70 384.88M384.50 372.49L386.80 372.49M697.00 372.49L694.70 372.49M384.50 360.10L388.50 360.10M697.00 360.10L693.00 360.10M384.50 347.71L386.80 347.71M697.00 347.71L694.70 347.71M384.50 335.32L386.80 335.32M697.00 335.32L694.70 335.32M384.50 322.94L386.80 322.94M697.00 322.94L694.70 322.94M384.50 310.55L388.50 310.55M697.00 310.55L693.00 310.55M384.50 298.16L386.80 298.16M697.00 298.16L694.70 298.16M384.50 285.77L386.80 285.77M697.00 285.77L694.70 285.77M384.50 273.39L386.80 273.39M697.00 273.39L694.70 273.39" stroke="#3a3a3a" stroke-width="1.25" fill="none"/>
<text x="72.50" y="212.80" font-family="Liberation Serif" font-size="11.5" text-anchor="middle"  fill="#111" stroke="#111" stroke-width="0.25">1</text><text x="176.50" y="212.80" font-family="Liberation Serif" font-size="11.5" text-anchor="middle"  fill="#111" stroke="#111" stroke-width="0.25">10</text><text x="280.50" y="212.80" font-family="Liberation Serif" font-size="11.5" text-anchor="middle"  fill="#111" stroke="#111" stroke-width="0.25">100</text><text x="384.50" y="212.80" font-family="Liberation Serif" font-size="11.5" text-anchor="middle"  fill="#111" stroke="#111" stroke-width="0.25">1</text><text x="488.67" y="212.80" font-family="Liberation Serif" font-size="11.5" text-anchor="middle"  fill="#111" stroke="#111" stroke-width="0.25">10</text><text x="592.83" y="212.80" font-family="Liberation Serif" font-size="11.5" text-anchor="middle"  fill="#111" stroke="#111" stroke-width="0.25">100</text><text x="697.00" y="212.80" font-family="Liberation Serif" font-size="11.5" text-anchor="middle"  fill="#111" stroke="#111" stroke-width="0.25">1000</text><text x="64.6" y="204.30" font-family="Liberation Serif" font-size="12.5" text-anchor="end">10</text><text x="65" y="196.80" font-family="Liberation Serif" font-size="7">2</text><text x="64.6" y="118.10" font-family="Liberation Serif" font-size="12.5" text-anchor="end">10</text><text x="65" y="110.60" font-family="Liberation Serif" font-size="7">3</text><text x="64.6" y="31.90" font-family="Liberation Serif" font-size="12.5" text-anchor="end">10</text><text x="65" y="24.40" font-family="Liberation Serif" font-size="7">4</text><text x="72.50" y="473.00" font-family="Liberation Serif" font-size="11.5" text-anchor="middle"  fill="#111" stroke="#111" stroke-width="0.25">0</text><text x="134.90" y="473.00" font-family="Liberation Serif" font-size="11.5" text-anchor="middle"  fill="#111" stroke="#111" stroke-width="0.25">200</text><text x="197.30" y="473.00" font-family="Liberation Serif" font-size="11.5" text-anchor="middle"  fill="#111" stroke="#111" stroke-width="0.25">400</text><text x="259.70" y="473.00" font-family="Liberation Serif" font-size="11.5" text-anchor="middle"  fill="#111" stroke="#111" stroke-width="0.25">600</text><text x="322.10" y="473.00" font-family="Liberation Serif" font-size="11.5" text-anchor="middle"  fill="#111" stroke="#111" stroke-width="0.25">800</text><text x="384.50" y="473.00" font-family="Liberation Serif" font-size="11.5" text-anchor="middle"  fill="#111" stroke="#111" stroke-width="0.25">0</text><text x="447.00" y="473.00" font-family="Liberation Serif" font-size="11.5" text-anchor="middle"  fill="#111" stroke="#111" stroke-width="0.25">200</text><text x="509.50" y="473.00" font-family="Liberation Serif" font-size="11.5" text-anchor="middle"  fill="#111" stroke="#111" stroke-width="0.25">400</text><text x="572.00" y="473.00" font-family="Liberation Serif" font-size="11.5" text-anchor="middle"  fill="#111" stroke="#111" stroke-width="0.25">600</text><text x="634.50" y="473.00" font-family="Liberation Serif" font-size="11.5" text-anchor="middle"  fill="#111" stroke="#111" stroke-width="0.25">800</text><text x="697.00" y="473.00" font-family="Liberation Serif" font-size="11.5" text-anchor="middle"  fill="#111" stroke="#111" stroke-width="0.25">1000</text><text x="68.60" y="462.80" font-family="Liberation Serif" font-size="12" text-anchor="end"  fill="#111" stroke="#111" stroke-width="0.25">0.0</text><text x="68.60" y="413.25" font-family="Liberation Serif" font-size="12" text-anchor="end"  fill="#111" stroke="#111" stroke-width="0.25">0.4</text><text x="68.60" y="363.70" font-family="Liberation Serif" font-size="12" text-anchor="end"  fill="#111" stroke="#111" stroke-width="0.25">0.8</text><text x="68.60" y="314.15" font-family="Liberation Serif" font-size="12" text-anchor="end"  fill="#111" stroke="#111" stroke-width="0.25">1.2</text><text x="68.60" y="264.60" font-family="Liberation Serif" font-size="12" text-anchor="end"  fill="#111" stroke="#111" stroke-width="0.25">1.6</text><text x="387.50" y="237.00" font-family="Liberation Serif" font-size="19" text-anchor="middle"  fill="#111" stroke="#111" stroke-width="0.25">Energy (meV)</text><text x="392.50" y="496.80" font-family="Liberation Serif" font-size="19" text-anchor="middle"  fill="#111" stroke="#111" stroke-width="0.25">Energy (meV)</text><text transform="translate(26,107.5) rotate(-90)" font-family="Liberation Sans" font-size="18" text-anchor="middle" fill="#111" stroke="#111" stroke-width="0.3">|σ(ω)| (Ω<tspan font-size="11" dy="-10.5">−1</tspan><tspan dy="10.5">cm</tspan><tspan font-size="11" dy="-10.5">−1</tspan><tspan dy="10.5">)</tspan></text><text transform="translate(20,367.5) rotate(-90)" font-family="Liberation Sans" font-size="18.5" text-anchor="middle" fill="#111" stroke="#111" stroke-width="0.3" letter-spacing="0.27">tan<tspan font-size="11.5" dy="-10">-1</tspan><tspan dy="10">[σ</tspan><tspan font-size="11.5" dy="4.5">2</tspan><tspan dy="-4.5">(ω)/σ</tspan><tspan font-size="11.5" dy="4.5">1</tspan><tspan dy="-4.5">(ω)] (rad.)</tspan></text><text x="245.80" y="30.90" font-family="Liberation Serif" font-size="15" text-anchor="start"  fill="#111" stroke="#111" stroke-width="0.25">Without PG</text><text x="351.90" y="30.00" font-family="Liberation Serif" font-size="18" text-anchor="start"  fill="#111" stroke="#111" stroke-width="0.25">(a)</text><text x="575.90" y="30.50" font-family="Liberation Serif" font-size="15" text-anchor="start"  fill="#111" stroke="#111" stroke-width="0.25">With PG</text><text x="664.80" y="26.00" font-family="Liberation Serif" font-size="18" text-anchor="start"  fill="#111" stroke="#111" stroke-width="0.25">(c)</text><text x="261.20" y="287.60" font-family="Liberation Serif" font-size="15" text-anchor="start"  fill="#111" stroke="#111" stroke-width="0.25">Without PG</text><text x="353.70" y="287.80" font-family="Liberation Serif" font-size="18" text-anchor="start"  fill="#111" stroke="#111" stroke-width="0.25">(b)</text><text x="573.50" y="291.30" font-family="Liberation Serif" font-size="15" text-anchor="start"  fill="#111" stroke="#111" stroke-width="0.25">With PG</text><text x="665.70" y="288.50" font-family="Liberation Serif" font-size="18" text-anchor="start"  fill="#111" stroke="#111" stroke-width="0.25">(d)</text><text x="234.70" y="148.20" font-family="Liberation Serif" font-size="13.5" text-anchor="start"  fill="#111" stroke="#111" stroke-width="0.25">slope = -α = -0.50</text><text x="559.60" y="141.90" font-family="Liberation Serif" font-size="13.5" text-anchor="start"  fill="#111" stroke="#111" stroke-width="0.25">slope = -α = -0.49</text><text x="238.90" y="386.30" font-family="Liberation Serif" font-size="13.6" text-anchor="start"  fill="#111" stroke="#111" stroke-width="0.25">π/2*α = 0.78</text><text x="587.50" y="384.30" font-family="Liberation Serif" font-size="13.6" text-anchor="start"  fill="#111" stroke="#111" stroke-width="0.25">π/2*α = 0.77</text><text x="191.50" y="40.70" font-family="Liberation Serif" font-size="12.3" text-anchor="start" fill="#8e1b8e" stroke="#8e1b8e" stroke-width="0.3">0 K</text><text x="506.30" y="22.80" font-family="Liberation Serif" font-size="12.3" text-anchor="start" fill="#8e1b8e" stroke="#8e1b8e" stroke-width="0.3">0 K</text><text x="110.00" y="347.00" font-family="Liberation Serif" font-size="12.3" text-anchor="start" fill="#8e1b8e" stroke="#8e1b8e" stroke-width="0.3">0 K</text><text x="426.90" y="330.60" font-family="Liberation Serif" font-size="12.3" text-anchor="start" fill="#8e1b8e" stroke="#8e1b8e" stroke-width="0.3">0 K</text><text x="167.60" y="123.50" font-family="Liberation Serif" font-size="12" text-anchor="start" fill="#8b1a1a" stroke="#8b1a1a" stroke-width="0.25">500 K</text><text x="474.00" y="120.20" font-family="Liberation Serif" font-size="12" text-anchor="start" fill="#8b1a1a" stroke="#8b1a1a" stroke-width="0.25">500 K</text><text x="113.20" y="426.10" font-family="Liberation Serif" font-size="12" text-anchor="start" fill="#8b1a1a" stroke="#8b1a1a" stroke-width="0.25">500 K</text><text x="431.40" y="421.10" font-family="Liberation Serif" font-size="12" text-anchor="start" fill="#8b1a1a" stroke="#8b1a1a" stroke-width="0.25">500 K</text><text x="145.00" y="156.30" font-family="Liberation Serif" font-size="15.5" text-anchor="start" font-style="italic" fill="#111" stroke="#111" stroke-width="0.25">T</text><text x="449.30" y="146.80" font-family="Liberation Serif" font-size="15.5" text-anchor="start" font-style="italic" fill="#111" stroke="#111" stroke-width="0.25">T</text><text x="107.60" y="320.80" font-family="Liberation Serif" font-size="15.5" text-anchor="start" font-style="italic" fill="#111" stroke="#111" stroke-width="0.25">T</text><text x="422.20" y="305.80" font-family="Liberation Serif" font-size="15.5" text-anchor="start" font-style="italic" fill="#111" stroke="#111" stroke-width="0.25">T</text>
</svg></body></html>
